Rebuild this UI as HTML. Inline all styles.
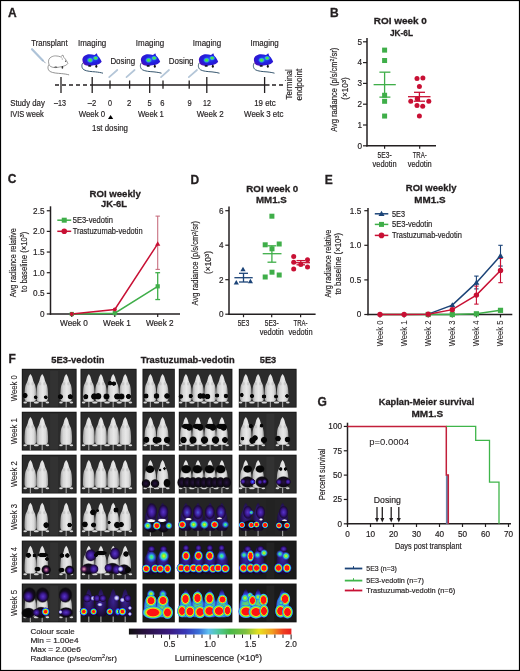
<!DOCTYPE html>
<html><head><meta charset="utf-8"><style>
html,body{margin:0;padding:0;background:#fff;}
svg{display:block;font-family:"Liberation Sans",sans-serif;will-change:transform;}
text{stroke:#231f20;stroke-width:0.18px;}
text[font-weight="bold"]{stroke-width:0.3px;}
</style></head><body>
<svg width="520" height="671" viewBox="0 0 520 671" fill="#231f20">
<rect x="0.5" y="0.5" width="519" height="670" fill="#fff" stroke="#000" stroke-width="1.2"/>
<defs>
<radialGradient id="mg" cx="0.55" cy="0.45" r="0.62">
<stop offset="0" stop-color="#2a50f0"/><stop offset="0.5" stop-color="#2020e0"/><stop offset="0.8" stop-color="#3016d0"/><stop offset="1" stop-color="#5810b0"/></radialGradient>
<radialGradient id="mgr"><stop offset="0" stop-color="#50f040"/><stop offset="0.35" stop-color="#44e450"/><stop offset="0.6" stop-color="#30b8d8" stop-opacity="0.85"/><stop offset="0.85" stop-color="#2a70f0" stop-opacity="0.5"/><stop offset="1" stop-color="#2a60f0" stop-opacity="0"/></radialGradient>
</defs>
<text x="8" y="17.3" font-size="12" font-weight="bold">A</text>
<line x1="32" y1="49.2" x2="42.8" y2="60.4" stroke="#aec3d8" stroke-width="2.2" stroke-linecap="round"/>
<line x1="42.8" y1="60.4" x2="45.6" y2="63.2" stroke="#6d8096" stroke-width="0.7" />
<g transform="translate(47.6 55) scale(1)">
<path d="M1.4,9.6 C-0.2,11.5 0,15 2.5,16.5 C5,18 10,18.3 14,18.6 C17,18.9 19.5,19.3 21.5,19.9" fill="none" stroke="#777" stroke-width="0.8"/>
<path d="M1.1,8 C0.4,5.6 1.4,3.2 3.5,2.1 C5,1.2 6.5,0.9 7.8,0.9 C9.8,0.9 11.5,1.3 13,1.8 L15.3,0 L16.2,2.4 C17.3,3.4 18.2,4.5 18.8,5.6 C19.4,6.6 19.9,7.6 20.2,8.5 C19.5,9.5 18.6,10.2 17.6,10.6 C15.8,11.3 14,11.8 12,12 C10.5,12.4 9,12.6 7.8,12.6 C6,12.6 4.2,12.2 3,11.5 C1.8,10.6 1.3,9.4 1.1,8 Z" fill="#fff" stroke="#5a5a5a" stroke-width="0.6"/>
<path d="M13.6,2.2 C14.6,3 15,4 14.6,5" fill="none" stroke="#777" stroke-width="0.5"/>
<ellipse cx="8.2" cy="12" rx="1.6" ry="0.6" fill="#333"/><ellipse cx="14.8" cy="12.4" rx="0.8" ry="1.3" fill="#333"/><circle cx="18" cy="6.2" r="0.6" fill="#333"/>
</g>
<g transform="translate(81.5 53.3) scale(1)">
<path d="M1.4,9.6 C-0.2,11.5 0,15 2.5,16.5 C5,18 10,18.3 14,18.6 C17,18.9 19.5,19.3 21.5,19.9" fill="none" stroke="#36566e" stroke-width="1"/>
<path d="M1.1,8 C0.4,5.6 1.4,3.2 3.5,2.1 C5,1.2 6.5,0.9 7.8,0.9 C9.8,0.9 11.5,1.3 13,1.8 L15.3,0 L16.2,2.4 C17.3,3.4 18.2,4.5 18.8,5.6 C19.4,6.6 19.9,7.6 20.2,8.5 C19.5,9.5 18.6,10.2 17.6,10.6 C15.8,11.3 14,11.8 12,12 C10.5,12.4 9,12.6 7.8,12.6 C6,12.6 4.2,12.2 3,11.5 C1.8,10.6 1.3,9.4 1.1,8 Z" fill="url(#mg)"/>
<ellipse cx="8.6" cy="6.9" rx="3.6" ry="3" fill="url(#mgr)"/><ellipse cx="14.2" cy="4.8" rx="3.2" ry="2.6" fill="url(#mgr)"/>
<ellipse cx="8.2" cy="12.6" rx="1.6" ry="0.9" fill="#141428"/><ellipse cx="14.8" cy="12.9" rx="1" ry="1.5" fill="#111"/>
</g>
<g transform="translate(140 53.3) scale(1)">
<path d="M1.4,9.6 C-0.2,11.5 0,15 2.5,16.5 C5,18 10,18.3 14,18.6 C17,18.9 19.5,19.3 21.5,19.9" fill="none" stroke="#36566e" stroke-width="1"/>
<path d="M1.1,8 C0.4,5.6 1.4,3.2 3.5,2.1 C5,1.2 6.5,0.9 7.8,0.9 C9.8,0.9 11.5,1.3 13,1.8 L15.3,0 L16.2,2.4 C17.3,3.4 18.2,4.5 18.8,5.6 C19.4,6.6 19.9,7.6 20.2,8.5 C19.5,9.5 18.6,10.2 17.6,10.6 C15.8,11.3 14,11.8 12,12 C10.5,12.4 9,12.6 7.8,12.6 C6,12.6 4.2,12.2 3,11.5 C1.8,10.6 1.3,9.4 1.1,8 Z" fill="url(#mg)"/>
<ellipse cx="8.6" cy="6.9" rx="3.6" ry="3" fill="url(#mgr)"/><ellipse cx="14.2" cy="4.8" rx="3.2" ry="2.6" fill="url(#mgr)"/>
<ellipse cx="8.2" cy="12.6" rx="1.6" ry="0.9" fill="#141428"/><ellipse cx="14.8" cy="12.9" rx="1" ry="1.5" fill="#111"/>
</g>
<g transform="translate(198 53.3) scale(1)">
<path d="M1.4,9.6 C-0.2,11.5 0,15 2.5,16.5 C5,18 10,18.3 14,18.6 C17,18.9 19.5,19.3 21.5,19.9" fill="none" stroke="#36566e" stroke-width="1"/>
<path d="M1.1,8 C0.4,5.6 1.4,3.2 3.5,2.1 C5,1.2 6.5,0.9 7.8,0.9 C9.8,0.9 11.5,1.3 13,1.8 L15.3,0 L16.2,2.4 C17.3,3.4 18.2,4.5 18.8,5.6 C19.4,6.6 19.9,7.6 20.2,8.5 C19.5,9.5 18.6,10.2 17.6,10.6 C15.8,11.3 14,11.8 12,12 C10.5,12.4 9,12.6 7.8,12.6 C6,12.6 4.2,12.2 3,11.5 C1.8,10.6 1.3,9.4 1.1,8 Z" fill="url(#mg)"/>
<ellipse cx="8.6" cy="6.9" rx="3.6" ry="3" fill="url(#mgr)"/><ellipse cx="14.2" cy="4.8" rx="3.2" ry="2.6" fill="url(#mgr)"/>
<ellipse cx="8.2" cy="12.6" rx="1.6" ry="0.9" fill="#141428"/><ellipse cx="14.8" cy="12.9" rx="1" ry="1.5" fill="#111"/>
</g>
<g transform="translate(253 53.3) scale(1)">
<path d="M1.4,9.6 C-0.2,11.5 0,15 2.5,16.5 C5,18 10,18.3 14,18.6 C17,18.9 19.5,19.3 21.5,19.9" fill="none" stroke="#36566e" stroke-width="1"/>
<path d="M1.1,8 C0.4,5.6 1.4,3.2 3.5,2.1 C5,1.2 6.5,0.9 7.8,0.9 C9.8,0.9 11.5,1.3 13,1.8 L15.3,0 L16.2,2.4 C17.3,3.4 18.2,4.5 18.8,5.6 C19.4,6.6 19.9,7.6 20.2,8.5 C19.5,9.5 18.6,10.2 17.6,10.6 C15.8,11.3 14,11.8 12,12 C10.5,12.4 9,12.6 7.8,12.6 C6,12.6 4.2,12.2 3,11.5 C1.8,10.6 1.3,9.4 1.1,8 Z" fill="url(#mg)"/>
<ellipse cx="8.6" cy="6.9" rx="3.6" ry="3" fill="url(#mgr)"/><ellipse cx="14.2" cy="4.8" rx="3.2" ry="2.6" fill="url(#mgr)"/>
<ellipse cx="8.2" cy="12.6" rx="1.6" ry="0.9" fill="#141428"/><ellipse cx="14.8" cy="12.9" rx="1" ry="1.5" fill="#111"/>
</g>
<line x1="109.2" y1="77.2" x2="117.3" y2="70" stroke="#b4c6d8" stroke-width="1.7" stroke-linecap="round"/>
<line x1="126.5" y1="77.2" x2="134.6" y2="70" stroke="#b4c6d8" stroke-width="1.7" stroke-linecap="round"/>
<line x1="161" y1="77.2" x2="169" y2="70" stroke="#b4c6d8" stroke-width="1.7" stroke-linecap="round"/>
<line x1="188.8" y1="77.2" x2="197" y2="70" stroke="#b4c6d8" stroke-width="1.7" stroke-linecap="round"/>
<text x="31.2" y="45.9" font-size="8.6" textLength="36.4" lengthAdjust="spacingAndGlyphs">Transplant</text>
<text x="78" y="46" font-size="8.6" textLength="28.3" lengthAdjust="spacingAndGlyphs">Imaging</text>
<text x="135.8" y="46" font-size="8.6" textLength="28.3" lengthAdjust="spacingAndGlyphs">Imaging</text>
<text x="192.8" y="46" font-size="8.6" textLength="28.3" lengthAdjust="spacingAndGlyphs">Imaging</text>
<text x="250.5" y="46" font-size="8.6" textLength="28.3" lengthAdjust="spacingAndGlyphs">Imaging</text>
<text x="110.4" y="63.5" font-size="8.6" textLength="24.7" lengthAdjust="spacingAndGlyphs">Dosing</text>
<text x="168.8" y="63.5" font-size="8.6" textLength="24.7" lengthAdjust="spacingAndGlyphs">Dosing</text>
<line x1="55" y1="85" x2="92" y2="85" stroke="#231f20" stroke-width="1.3" stroke-dasharray="4 3"/>
<line x1="92" y1="85" x2="269.5" y2="85" stroke="#231f20" stroke-width="1.3" />
<line x1="272" y1="85" x2="283" y2="85" stroke="#231f20" stroke-width="1.3" stroke-dasharray="4 3"/>
<line x1="61" y1="77" x2="61" y2="93" stroke="#231f20" stroke-width="1.3" />
<line x1="92.2" y1="77" x2="92.2" y2="93" stroke="#231f20" stroke-width="1.3" />
<line x1="149.7" y1="77" x2="149.7" y2="93" stroke="#231f20" stroke-width="1.3" />
<line x1="206.8" y1="77" x2="206.8" y2="93" stroke="#231f20" stroke-width="1.3" />
<line x1="264.6" y1="77" x2="264.6" y2="93" stroke="#231f20" stroke-width="1.3" />
<line x1="110" y1="80.5" x2="110" y2="88.7" stroke="#231f20" stroke-width="1.3" />
<line x1="129.6" y1="80.5" x2="129.6" y2="88.7" stroke="#231f20" stroke-width="1.3" />
<line x1="163" y1="80.5" x2="163" y2="88.7" stroke="#231f20" stroke-width="1.3" />
<line x1="189.2" y1="80.5" x2="189.2" y2="88.7" stroke="#231f20" stroke-width="1.3" />
<text x="10.2" y="105.6" font-size="8.6" textLength="34.6" lengthAdjust="spacingAndGlyphs">Study day</text>
<text x="10.2" y="117.2" font-size="8.6" textLength="33.6" lengthAdjust="spacingAndGlyphs">IVIS week</text>
<text x="54" y="105.6" font-size="8.6" textLength="12" lengthAdjust="spacingAndGlyphs">–13</text>
<text x="87.8" y="105.6" font-size="8.6" textLength="8.5" lengthAdjust="spacingAndGlyphs">–2</text>
<text x="108" y="105.6" font-size="8.6" textLength="4" lengthAdjust="spacingAndGlyphs">0</text>
<text x="127" y="105.6" font-size="8.6" textLength="4.3" lengthAdjust="spacingAndGlyphs">2</text>
<text x="147.6" y="105.6" font-size="8.6" textLength="4.2" lengthAdjust="spacingAndGlyphs">5</text>
<text x="160.3" y="105.6" font-size="8.6" textLength="4.2" lengthAdjust="spacingAndGlyphs">6</text>
<text x="187.4" y="105.6" font-size="8.6" textLength="4.2" lengthAdjust="spacingAndGlyphs">9</text>
<text x="203" y="105.6" font-size="8.6" textLength="7.9" lengthAdjust="spacingAndGlyphs">12</text>
<text x="254.2" y="105.6" font-size="8.6" textLength="21.6" lengthAdjust="spacingAndGlyphs">19 etc</text>
<text x="78.7" y="117.2" font-size="8.6" textLength="26.4" lengthAdjust="spacingAndGlyphs">Week 0</text>
<text x="138" y="117.2" font-size="8.6" textLength="25.9" lengthAdjust="spacingAndGlyphs">Week 1</text>
<text x="196.7" y="117.2" font-size="8.6" textLength="26.9" lengthAdjust="spacingAndGlyphs">Week 2</text>
<text x="244.1" y="117.2" font-size="8.6" textLength="39.3" lengthAdjust="spacingAndGlyphs">Week 3 etc</text>
<text x="92" y="130.5" font-size="8.6" textLength="36" lengthAdjust="spacingAndGlyphs">1st dosing</text>
<polygon points="108,119 113.2,119 110.6,115" fill="#000" />
<text x="292.4" y="99.4" font-size="8.6" textLength="30.3" lengthAdjust="spacingAndGlyphs" transform="rotate(-90 292.4 99.4)">Terminal</text>
<text x="301.9" y="100.4" font-size="8.6" textLength="31.7" lengthAdjust="spacingAndGlyphs" transform="rotate(-90 301.9 100.4)">endpoint</text>
<text x="330" y="17.3" font-size="12" font-weight="bold">B</text>
<text x="373.8" y="23.6" font-size="9.7" font-weight="bold" textLength="53" lengthAdjust="spacingAndGlyphs">ROI week 0</text>
<text x="390" y="36.4" font-size="9.7" font-weight="bold" textLength="23" lengthAdjust="spacingAndGlyphs">JK-6L</text>
<line x1="367" y1="38" x2="367" y2="146.5" stroke="#231f20" stroke-width="1.5" />
<line x1="366.3" y1="145.8" x2="436" y2="145.8" stroke="#231f20" stroke-width="1.5" />
<line x1="363" y1="145.8" x2="367" y2="145.8" stroke="#231f20" stroke-width="1.2" />
<text x="362" y="148.6" font-size="8.2" text-anchor="end">0</text>
<line x1="363" y1="125" x2="367" y2="125" stroke="#231f20" stroke-width="1.2" />
<text x="362" y="127.8" font-size="8.2" text-anchor="end">1</text>
<line x1="363" y1="104.2" x2="367" y2="104.2" stroke="#231f20" stroke-width="1.2" />
<text x="362" y="107" font-size="8.2" text-anchor="end">2</text>
<line x1="363" y1="83.4" x2="367" y2="83.4" stroke="#231f20" stroke-width="1.2" />
<text x="362" y="86.2" font-size="8.2" text-anchor="end">3</text>
<line x1="363" y1="62.6" x2="367" y2="62.6" stroke="#231f20" stroke-width="1.2" />
<text x="362" y="65.4" font-size="8.2" text-anchor="end">4</text>
<line x1="363" y1="41.8" x2="367" y2="41.8" stroke="#231f20" stroke-width="1.2" />
<text x="362" y="44.6" font-size="8.2" text-anchor="end">5</text>
<line x1="384.6" y1="145.8" x2="384.6" y2="148.8" stroke="#231f20" stroke-width="1.2" />
<line x1="419.7" y1="145.8" x2="419.7" y2="148.8" stroke="#231f20" stroke-width="1.2" />
<text x="384.6" y="157.6" font-size="8.2" text-anchor="middle" textLength="14" lengthAdjust="spacingAndGlyphs">5E3-</text>
<text x="384.6" y="166.6" font-size="8.2" text-anchor="middle" textLength="24" lengthAdjust="spacingAndGlyphs">vedotin</text>
<text x="419.7" y="157.6" font-size="8.2" text-anchor="middle" textLength="14" lengthAdjust="spacingAndGlyphs">TRA-</text>
<text x="419.7" y="166.6" font-size="8.2" text-anchor="middle" textLength="24" lengthAdjust="spacingAndGlyphs">vedotin</text>
<text x="336.9" y="89.85" font-size="8.2" text-anchor="middle" textLength="84" lengthAdjust="spacingAndGlyphs" transform="rotate(-90 336.9 89.85)">Avg radiance (p/s/cm<tspan dy="-2.5" font-size="5.5">2</tspan><tspan dy="2.5">/sr)</tspan></text>
<text x="348" y="88.5" font-size="8.2" text-anchor="middle" textLength="22.3" lengthAdjust="spacingAndGlyphs" transform="rotate(-90 348 88.5)">(×10<tspan dy="-2.5" font-size="5.5">3</tspan><tspan dy="2.5">)</tspan></text>
<rect x="382.1" y="47.62" width="5" height="5" fill="#3fae49" />
<rect x="382.1" y="58.02" width="5" height="5" fill="#3fae49" />
<rect x="382.1" y="92.76" width="5" height="5" fill="#3fae49" />
<rect x="382.1" y="98.79" width="5" height="5" fill="#3fae49" />
<rect x="382.1" y="113.56" width="5" height="5" fill="#3fae49" />
<line x1="373.6" y1="84.65" x2="395.8" y2="84.65" stroke="#3fae49" stroke-width="1.3" />
<line x1="384.6" y1="72.17" x2="384.6" y2="97.13" stroke="#3fae49" stroke-width="1.3" />
<line x1="379.4" y1="72.17" x2="390.4" y2="72.17" stroke="#3fae49" stroke-width="1.3" />
<line x1="379.4" y1="97.13" x2="390.4" y2="97.13" stroke="#3fae49" stroke-width="1.3" />
<circle cx="417" cy="78.5" r="2.5" fill="#c81034" />
<circle cx="422.9" cy="78" r="2.5" fill="#c81034" />
<circle cx="419.4" cy="86.5" r="2.5" fill="#c81034" />
<circle cx="410.8" cy="101.2" r="2.5" fill="#c81034" />
<circle cx="417.2" cy="98.8" r="2.5" fill="#c81034" />
<circle cx="428.8" cy="101.2" r="2.5" fill="#c81034" />
<circle cx="417" cy="105.4" r="2.5" fill="#c81034" />
<circle cx="422.7" cy="106.3" r="2.5" fill="#c81034" />
<circle cx="419.4" cy="116" r="2.5" fill="#c81034" />
<line x1="408" y1="96.7" x2="430.5" y2="96.7" stroke="#c81034" stroke-width="1.3" />
<line x1="419.4" y1="92.3" x2="419.4" y2="101.2" stroke="#c81034" stroke-width="1.3" />
<line x1="414" y1="92.3" x2="425" y2="92.3" stroke="#c81034" stroke-width="1.3" />
<line x1="414" y1="101.2" x2="425" y2="101.2" stroke="#c81034" stroke-width="1.3" />
<text x="7.7" y="183.3" font-size="12" font-weight="bold">C</text>
<text x="89.5" y="196.6" font-size="9.7" font-weight="bold" textLength="51.3" lengthAdjust="spacingAndGlyphs">ROI weekly</text>
<text x="101" y="207.2" font-size="9.7" font-weight="bold" textLength="26" lengthAdjust="spacingAndGlyphs">JK-6L</text>
<line x1="50.5" y1="206.3" x2="50.5" y2="314.7" stroke="#231f20" stroke-width="1.5" />
<line x1="49.8" y1="314" x2="180" y2="314" stroke="#231f20" stroke-width="1.5" />
<line x1="46.8" y1="314" x2="50.5" y2="314" stroke="#231f20" stroke-width="1.2" />
<text x="44.5" y="316.8" font-size="8.2" text-anchor="end">0</text>
<line x1="46.8" y1="293.35" x2="50.5" y2="293.35" stroke="#231f20" stroke-width="1.2" />
<text x="44.5" y="296.15" font-size="8.2" text-anchor="end">0.5</text>
<line x1="46.8" y1="272.7" x2="50.5" y2="272.7" stroke="#231f20" stroke-width="1.2" />
<text x="44.5" y="275.5" font-size="8.2" text-anchor="end">1.0</text>
<line x1="46.8" y1="252.05" x2="50.5" y2="252.05" stroke="#231f20" stroke-width="1.2" />
<text x="44.5" y="254.85" font-size="8.2" text-anchor="end">1.5</text>
<line x1="46.8" y1="231.4" x2="50.5" y2="231.4" stroke="#231f20" stroke-width="1.2" />
<text x="44.5" y="234.2" font-size="8.2" text-anchor="end">2.0</text>
<line x1="46.8" y1="210.75" x2="50.5" y2="210.75" stroke="#231f20" stroke-width="1.2" />
<text x="44.5" y="213.55" font-size="8.2" text-anchor="end">2.5</text>
<line x1="71.8" y1="314" x2="71.8" y2="317" stroke="#231f20" stroke-width="1.2" />
<text x="73.9" y="325.6" font-size="8.2" text-anchor="middle" textLength="27.7" lengthAdjust="spacingAndGlyphs">Week 0</text>
<line x1="114.8" y1="314" x2="114.8" y2="317" stroke="#231f20" stroke-width="1.2" />
<text x="116.9" y="325.6" font-size="8.2" text-anchor="middle" textLength="27.7" lengthAdjust="spacingAndGlyphs">Week 1</text>
<line x1="157.7" y1="314" x2="157.7" y2="317" stroke="#231f20" stroke-width="1.2" />
<text x="159.8" y="325.6" font-size="8.2" text-anchor="middle" textLength="27.7" lengthAdjust="spacingAndGlyphs">Week 2</text>
<text x="16.2" y="262.75" font-size="8.2" text-anchor="middle" textLength="69" lengthAdjust="spacingAndGlyphs" transform="rotate(-90 16.2 262.75)">Avg radiance relative</text>
<text x="26.6" y="261.9" font-size="8.2" text-anchor="middle" textLength="60.2" lengthAdjust="spacingAndGlyphs" transform="rotate(-90 26.6 261.9)">to baseline (×10<tspan dy="-2.5" font-size="5.5">3</tspan><tspan dy="2.5">)</tspan></text>
<line x1="57.3" y1="220.2" x2="71.2" y2="220.2" stroke="#3fae49" stroke-width="1.5" />
<rect x="61.75" y="217.7" width="5" height="5" fill="#3fae49" />
<line x1="57.3" y1="231.3" x2="71.2" y2="231.3" stroke="#c81034" stroke-width="1.5" />
<circle cx="64.25" cy="231.3" r="2.8" fill="#c81034" />
<text x="72.7" y="222.9" font-size="8.2" textLength="40.3" lengthAdjust="spacingAndGlyphs">5E3-vedotin</text>
<text x="72.7" y="234" font-size="8.2" textLength="69.9" lengthAdjust="spacingAndGlyphs">Trastuzumab-vedotin</text>
<line x1="157.7" y1="216.12" x2="157.7" y2="269.4" stroke="#c87080" stroke-width="1.1" />
<line x1="155.5" y1="216.12" x2="159.9" y2="216.12" stroke="#c87080" stroke-width="1.1" />
<line x1="155.5" y1="269.4" x2="159.9" y2="269.4" stroke="#c87080" stroke-width="1.1" />
<line x1="157.7" y1="272.7" x2="157.7" y2="299.55" stroke="#3fae49" stroke-width="1.3" />
<line x1="155.3" y1="272.7" x2="160.1" y2="272.7" stroke="#3fae49" stroke-width="1.3" />
<line x1="155.3" y1="299.55" x2="160.1" y2="299.55" stroke="#3fae49" stroke-width="1.3" />
<polyline points="71.8,314 114.8,313.17 157.7,286.33" fill="none" stroke="#3fae49" stroke-width="1.5" />
<polyline points="71.8,314 114.8,309.46 157.7,243.79" fill="none" stroke="#c81034" stroke-width="1.5" />
<rect x="69.7" y="311.9" width="4.2" height="4.2" fill="#3fae49" />
<rect x="112.7" y="311.07" width="4.2" height="4.2" fill="#3fae49" />
<rect x="155.6" y="284.23" width="4.2" height="4.2" fill="#3fae49" />
<circle cx="71.8" cy="314" r="2" fill="#c81034" />
<circle cx="114.8" cy="309.46" r="2" fill="#c81034" />
<polygon points="155.1,245.79 160.3,245.79 157.7,241.19" fill="#c81034" />
<text x="190.6" y="183.5" font-size="12" font-weight="bold">D</text>
<text x="246.3" y="192.2" font-size="9.7" font-weight="bold" textLength="52" lengthAdjust="spacingAndGlyphs">ROI week 0</text>
<text x="256" y="202.8" font-size="9.7" font-weight="bold" textLength="30.8" lengthAdjust="spacingAndGlyphs">MM1.S</text>
<line x1="229" y1="206.5" x2="229" y2="314.9" stroke="#231f20" stroke-width="1.5" />
<line x1="228.3" y1="314.2" x2="315.6" y2="314.2" stroke="#231f20" stroke-width="1.5" />
<line x1="225.3" y1="314.2" x2="229" y2="314.2" stroke="#231f20" stroke-width="1.2" />
<text x="223.6" y="317" font-size="8.2" text-anchor="end">0</text>
<line x1="225.3" y1="279.7" x2="229" y2="279.7" stroke="#231f20" stroke-width="1.2" />
<text x="223.6" y="282.5" font-size="8.2" text-anchor="end">2</text>
<line x1="225.3" y1="245.2" x2="229" y2="245.2" stroke="#231f20" stroke-width="1.2" />
<text x="223.6" y="248" font-size="8.2" text-anchor="end">4</text>
<line x1="225.3" y1="210.7" x2="229" y2="210.7" stroke="#231f20" stroke-width="1.2" />
<text x="223.6" y="213.5" font-size="8.2" text-anchor="end">6</text>
<line x1="243.5" y1="314.2" x2="243.5" y2="317.2" stroke="#231f20" stroke-width="1.2" />
<line x1="271.7" y1="314.2" x2="271.7" y2="317.2" stroke="#231f20" stroke-width="1.2" />
<line x1="300.6" y1="314.2" x2="300.6" y2="317.2" stroke="#231f20" stroke-width="1.2" />
<text x="243.5" y="325.6" font-size="8.2" text-anchor="middle" textLength="11.5" lengthAdjust="spacingAndGlyphs">5E3</text>
<text x="271.7" y="325.6" font-size="8.2" text-anchor="middle" textLength="14" lengthAdjust="spacingAndGlyphs">5E3-</text>
<text x="271.7" y="335.4" font-size="8.2" text-anchor="middle" textLength="24" lengthAdjust="spacingAndGlyphs">vedotin</text>
<text x="300.6" y="325.6" font-size="8.2" text-anchor="middle" textLength="14" lengthAdjust="spacingAndGlyphs">TRA-</text>
<text x="300.6" y="335.4" font-size="8.2" text-anchor="middle" textLength="24" lengthAdjust="spacingAndGlyphs">vedotin</text>
<text x="198.4" y="263.2" font-size="8.2" text-anchor="middle" textLength="84.4" lengthAdjust="spacingAndGlyphs" transform="rotate(-90 198.4 263.2)">Avg radiance (p/s/cm<tspan dy="-2.5" font-size="5.5">2</tspan><tspan dy="2.5">/sr)</tspan></text>
<text x="211" y="262.5" font-size="8.2" text-anchor="middle" textLength="23" lengthAdjust="spacingAndGlyphs" transform="rotate(-90 211 262.5)">(×10<tspan dy="-2.5" font-size="5.5">3</tspan><tspan dy="2.5">)</tspan></text>
<rect x="269.4" y="213.7" width="5" height="5" fill="#3fae49" />
<rect x="262.7" y="242.3" width="5" height="5" fill="#3fae49" />
<rect x="276.7" y="241.5" width="5" height="5" fill="#3fae49" />
<rect x="269.5" y="246.3" width="5" height="5" fill="#3fae49" />
<rect x="262.7" y="274.5" width="5" height="5" fill="#3fae49" />
<rect x="269.5" y="269.7" width="5" height="5" fill="#3fae49" />
<rect x="276.7" y="272.5" width="5" height="5" fill="#3fae49" />
<line x1="262.7" y1="253.7" x2="281.5" y2="253.7" stroke="#3fae49" stroke-width="1.3" />
<line x1="271.9" y1="245.8" x2="271.9" y2="262.2" stroke="#3fae49" stroke-width="1.3" />
<line x1="267.5" y1="245.8" x2="276.3" y2="245.8" stroke="#3fae49" stroke-width="1.3" />
<line x1="267.5" y1="262.2" x2="276.3" y2="262.2" stroke="#3fae49" stroke-width="1.3" />
<circle cx="293.7" cy="256.5" r="2.5" fill="#c81034" />
<circle cx="307.5" cy="259.8" r="2.5" fill="#c81034" />
<circle cx="293.7" cy="262.3" r="2.5" fill="#c81034" />
<circle cx="300.8" cy="264.6" r="2.5" fill="#c81034" />
<circle cx="307.5" cy="267" r="2.5" fill="#c81034" />
<circle cx="293.7" cy="269" r="2.5" fill="#c81034" />
<line x1="292" y1="262.7" x2="310" y2="262.7" stroke="#c81034" stroke-width="1.3" />
<line x1="300.8" y1="260.6" x2="300.8" y2="264.8" stroke="#c81034" stroke-width="1.3" />
<line x1="296.5" y1="260.6" x2="305" y2="260.6" stroke="#c81034" stroke-width="1.3" />
<line x1="296.5" y1="264.8" x2="305" y2="264.8" stroke="#c81034" stroke-width="1.3" />
<polygon points="240.4,271.3 245.6,271.3 243,266.7" fill="#1c4478" />
<polygon points="233.7,284.6 238.9,284.6 236.3,280" fill="#1c4478" />
<polygon points="247.8,283.3 253,283.3 250.4,278.7" fill="#1c4478" />
<line x1="234.4" y1="277.7" x2="252.7" y2="277.7" stroke="#1c4478" stroke-width="1.3" />
<line x1="243.5" y1="273.3" x2="243.5" y2="282" stroke="#1c4478" stroke-width="1.3" />
<line x1="239" y1="273.3" x2="248" y2="273.3" stroke="#1c4478" stroke-width="1.3" />
<line x1="239" y1="282" x2="248" y2="282" stroke="#1c4478" stroke-width="1.3" />
<text x="324.8" y="183.5" font-size="12" font-weight="bold">E</text>
<text x="405.8" y="191" font-size="9.7" font-weight="bold" textLength="50.7" lengthAdjust="spacingAndGlyphs">ROI weekly</text>
<text x="414.3" y="202.6" font-size="9.7" font-weight="bold" textLength="31.2" lengthAdjust="spacingAndGlyphs">MM1.S</text>
<line x1="368" y1="208" x2="368" y2="315.2" stroke="#231f20" stroke-width="1.5" />
<line x1="367.3" y1="314.5" x2="512.3" y2="314.5" stroke="#231f20" stroke-width="1.5" />
<line x1="364.3" y1="314.5" x2="368" y2="314.5" stroke="#231f20" stroke-width="1.2" />
<text x="361.2" y="317.3" font-size="8.2" text-anchor="end">0</text>
<line x1="364.3" y1="279.9" x2="368" y2="279.9" stroke="#231f20" stroke-width="1.2" />
<text x="361.2" y="282.7" font-size="8.2" text-anchor="end">0.5</text>
<line x1="364.3" y1="245.3" x2="368" y2="245.3" stroke="#231f20" stroke-width="1.2" />
<text x="361.2" y="248.1" font-size="8.2" text-anchor="end">1.0</text>
<line x1="364.3" y1="210.7" x2="368" y2="210.7" stroke="#231f20" stroke-width="1.2" />
<text x="361.2" y="213.5" font-size="8.2" text-anchor="end">1.5</text>
<line x1="380" y1="314.5" x2="380" y2="317.5" stroke="#231f20" stroke-width="1.2" />
<text x="382.8" y="346.3" font-size="8.2" textLength="25.8" lengthAdjust="spacingAndGlyphs" transform="rotate(-90 382.8 346.3)" style="stroke-width:0.05px">Week 0</text>
<line x1="404.1" y1="314.5" x2="404.1" y2="317.5" stroke="#231f20" stroke-width="1.2" />
<text x="406.9" y="346.3" font-size="8.2" textLength="25.8" lengthAdjust="spacingAndGlyphs" transform="rotate(-90 406.9 346.3)" style="stroke-width:0.05px">Week 1</text>
<line x1="428.2" y1="314.5" x2="428.2" y2="317.5" stroke="#231f20" stroke-width="1.2" />
<text x="431" y="346.3" font-size="8.2" textLength="25.8" lengthAdjust="spacingAndGlyphs" transform="rotate(-90 431 346.3)" style="stroke-width:0.05px">Week 2</text>
<line x1="452.3" y1="314.5" x2="452.3" y2="317.5" stroke="#231f20" stroke-width="1.2" />
<text x="455.1" y="346.3" font-size="8.2" textLength="25.8" lengthAdjust="spacingAndGlyphs" transform="rotate(-90 455.1 346.3)" style="stroke-width:0.05px">Week 3</text>
<line x1="476.4" y1="314.5" x2="476.4" y2="317.5" stroke="#231f20" stroke-width="1.2" />
<text x="479.2" y="346.3" font-size="8.2" textLength="25.8" lengthAdjust="spacingAndGlyphs" transform="rotate(-90 479.2 346.3)" style="stroke-width:0.05px">Week 4</text>
<line x1="500.5" y1="314.5" x2="500.5" y2="317.5" stroke="#231f20" stroke-width="1.2" />
<text x="503.3" y="346.3" font-size="8.2" textLength="25.8" lengthAdjust="spacingAndGlyphs" transform="rotate(-90 503.3 346.3)" style="stroke-width:0.05px">Week 5</text>
<text x="330.6" y="263.7" font-size="8.2" text-anchor="middle" textLength="67.8" lengthAdjust="spacingAndGlyphs" transform="rotate(-90 330.6 263.7)">Avg radiance relative</text>
<text x="341.4" y="263.8" font-size="8.2" text-anchor="middle" textLength="61.6" lengthAdjust="spacingAndGlyphs" transform="rotate(-90 341.4 263.8)">to baseline (×10<tspan dy="-2.5" font-size="5.5">3</tspan><tspan dy="2.5">)</tspan></text>
<line x1="374.8" y1="213.8" x2="388.3" y2="213.8" stroke="#1c4478" stroke-width="1.5" />
<polygon points="378.5,216 384.5,216 381.5,210.8" fill="#1c4478" />
<line x1="374.8" y1="224.4" x2="388.3" y2="224.4" stroke="#3fae49" stroke-width="1.5" />
<rect x="379" y="221.9" width="5" height="5" fill="#3fae49" />
<line x1="374.8" y1="235.4" x2="388.3" y2="235.4" stroke="#c81034" stroke-width="1.5" />
<circle cx="381.5" cy="235.4" r="2.8" fill="#c81034" />
<text x="392" y="216.5" font-size="8.2" textLength="13" lengthAdjust="spacingAndGlyphs">5E3</text>
<text x="392" y="227.1" font-size="8.2" textLength="40.3" lengthAdjust="spacingAndGlyphs">5E3-vedotin</text>
<text x="392" y="238.1" font-size="8.2" textLength="69.9" lengthAdjust="spacingAndGlyphs">Trastuzumab-vedotin</text>
<line x1="476.4" y1="276.09" x2="476.4" y2="288.9" stroke="#1c4478" stroke-width="1.1" />
<line x1="474.2" y1="276.09" x2="478.6" y2="276.09" stroke="#1c4478" stroke-width="1.1" />
<line x1="474.2" y1="288.9" x2="478.6" y2="288.9" stroke="#1c4478" stroke-width="1.1" />
<line x1="500.5" y1="245.3" x2="500.5" y2="266.06" stroke="#1c4478" stroke-width="1.1" />
<line x1="498.3" y1="245.3" x2="502.7" y2="245.3" stroke="#1c4478" stroke-width="1.1" />
<line x1="498.3" y1="266.06" x2="502.7" y2="266.06" stroke="#1c4478" stroke-width="1.1" />
<line x1="476.4" y1="286.13" x2="476.4" y2="304.12" stroke="#c81034" stroke-width="1.1" />
<line x1="474.2" y1="286.13" x2="478.6" y2="286.13" stroke="#c81034" stroke-width="1.1" />
<line x1="474.2" y1="304.12" x2="478.6" y2="304.12" stroke="#c81034" stroke-width="1.1" />
<line x1="500.5" y1="258.45" x2="500.5" y2="282.67" stroke="#c81034" stroke-width="1.1" />
<line x1="498.3" y1="258.45" x2="502.7" y2="258.45" stroke="#c81034" stroke-width="1.1" />
<line x1="498.3" y1="282.67" x2="502.7" y2="282.67" stroke="#c81034" stroke-width="1.1" />
<polyline points="380,314.5 404.1,314.5 428.2,314.5 452.3,314.5 476.4,313.81 500.5,310.35" fill="none" stroke="#3fae49" stroke-width="1.5" />
<polyline points="428.2,314.15 452.3,305.16 476.4,282.67 500.5,255.68" fill="none" stroke="#1c4478" stroke-width="1.5" />
<polyline points="380,314.5 404.1,314.5 428.2,314.15 452.3,309.66 476.4,295.12 500.5,270.56" fill="none" stroke="#c81034" stroke-width="1.5" />
<rect x="425.6" y="311.9" width="5.2" height="5.2" fill="#3fae49" />
<rect x="449.7" y="311.9" width="5.2" height="5.2" fill="#3fae49" />
<rect x="473.8" y="311.21" width="5.2" height="5.2" fill="#3fae49" />
<rect x="497.9" y="307.75" width="5.2" height="5.2" fill="#3fae49" />
<polygon points="449.3,307.36 455.3,307.36 452.3,302.16" fill="#1c4478" />
<polygon points="473.4,284.87 479.4,284.87 476.4,279.67" fill="#1c4478" />
<polygon points="497.5,257.88 503.5,257.88 500.5,252.68" fill="#1c4478" />
<circle cx="380" cy="314.5" r="2.7" fill="#c81034" />
<circle cx="404.1" cy="314.5" r="2.7" fill="#c81034" />
<circle cx="428.2" cy="314.15" r="2.7" fill="#c81034" />
<circle cx="452.3" cy="309.66" r="2.7" fill="#c81034" />
<circle cx="476.4" cy="295.12" r="2.7" fill="#c81034" />
<circle cx="500.5" cy="270.56" r="2.7" fill="#c81034" />
<text x="317.4" y="406.3" font-size="12" font-weight="bold">G</text>
<text x="378.8" y="405.2" font-size="9.7" font-weight="bold" textLength="95.5" lengthAdjust="spacingAndGlyphs">Kaplan-Meier survival</text>
<text x="411.5" y="417.3" font-size="9.7" font-weight="bold" textLength="31.7" lengthAdjust="spacingAndGlyphs">MM1.S</text>
<line x1="347.5" y1="422.7" x2="347.5" y2="524.5" stroke="#231f20" stroke-width="1.5" />
<line x1="346.8" y1="523.8" x2="511" y2="523.8" stroke="#231f20" stroke-width="1.5" />
<line x1="343.8" y1="523.8" x2="347.5" y2="523.8" stroke="#231f20" stroke-width="1.2" />
<text x="342" y="526.6" font-size="8.2" text-anchor="end">0</text>
<line x1="343.8" y1="499.46" x2="347.5" y2="499.46" stroke="#231f20" stroke-width="1.2" />
<text x="342" y="502.26" font-size="8.2" text-anchor="end">25</text>
<line x1="343.8" y1="475.12" x2="347.5" y2="475.12" stroke="#231f20" stroke-width="1.2" />
<text x="342" y="477.92" font-size="8.2" text-anchor="end">50</text>
<line x1="343.8" y1="450.78" x2="347.5" y2="450.78" stroke="#231f20" stroke-width="1.2" />
<text x="342" y="453.58" font-size="8.2" text-anchor="end">75</text>
<line x1="343.8" y1="426.44" x2="347.5" y2="426.44" stroke="#231f20" stroke-width="1.2" />
<text x="342" y="429.24" font-size="8.2" text-anchor="end">100</text>
<line x1="347.5" y1="523.8" x2="347.5" y2="527" stroke="#231f20" stroke-width="1.2" />
<text x="347.5" y="537" font-size="8.2" text-anchor="middle">0</text>
<line x1="370.5" y1="523.8" x2="370.5" y2="527" stroke="#231f20" stroke-width="1.2" />
<text x="370.5" y="537" font-size="8.2" text-anchor="middle">10</text>
<line x1="393.5" y1="523.8" x2="393.5" y2="527" stroke="#231f20" stroke-width="1.2" />
<text x="393.5" y="537" font-size="8.2" text-anchor="middle">20</text>
<line x1="416.5" y1="523.8" x2="416.5" y2="527" stroke="#231f20" stroke-width="1.2" />
<text x="416.5" y="537" font-size="8.2" text-anchor="middle">30</text>
<line x1="439.5" y1="523.8" x2="439.5" y2="527" stroke="#231f20" stroke-width="1.2" />
<text x="439.5" y="537" font-size="8.2" text-anchor="middle">40</text>
<line x1="462.5" y1="523.8" x2="462.5" y2="527" stroke="#231f20" stroke-width="1.2" />
<text x="462.5" y="537" font-size="8.2" text-anchor="middle">50</text>
<line x1="485.5" y1="523.8" x2="485.5" y2="527" stroke="#231f20" stroke-width="1.2" />
<text x="485.5" y="537" font-size="8.2" text-anchor="middle">60</text>
<line x1="508.5" y1="523.8" x2="508.5" y2="527" stroke="#231f20" stroke-width="1.2" />
<text x="508.5" y="537" font-size="8.2" text-anchor="middle">70</text>
<text x="395" y="548.5" font-size="8.2" textLength="66.5" lengthAdjust="spacingAndGlyphs">Days post transplant</text>
<text x="325" y="474.3" font-size="8.2" text-anchor="middle" textLength="51.4" lengthAdjust="spacingAndGlyphs" transform="rotate(-90 325 474.3)">Percent survival</text>
<text x="369.2" y="444.6" font-size="9.2" textLength="39.8" lengthAdjust="spacingAndGlyphs" style="stroke-width:0.05px">p=0.0004</text>
<rect x="445.9" y="475.12" width="2.4" height="48.68" fill="#6a86ad" />
<polyline points="347.5,426.44 446.3,426.44 446.3,475.12 448.3,475.12 448.3,523.8" fill="none" stroke="#c21f3a" stroke-width="1.5" />
<polyline points="446.3,426.44 475.7,426.44 475.7,440.36 489.5,440.36 489.5,482.03 499,482.03 499,523.8" fill="none" stroke="#3fb54a" stroke-width="1.3" />
<text x="373.8" y="503.2" font-size="8.6" textLength="27" lengthAdjust="spacingAndGlyphs">Dosing</text>
<line x1="377" y1="507" x2="377" y2="519.5" stroke="#231f20" stroke-width="1.3" />
<polygon points="375,518 379,518 377,522.5" fill="#231f20" />
<line x1="382.3" y1="507" x2="382.3" y2="519.5" stroke="#231f20" stroke-width="1.3" />
<polygon points="380.3,518 384.3,518 382.3,522.5" fill="#231f20" />
<line x1="391.2" y1="507" x2="391.2" y2="519.5" stroke="#231f20" stroke-width="1.3" />
<polygon points="389.2,518 393.2,518 391.2,522.5" fill="#231f20" />
<line x1="398.8" y1="507" x2="398.8" y2="519.5" stroke="#231f20" stroke-width="1.3" />
<polygon points="396.8,518 400.8,518 398.8,522.5" fill="#231f20" />
<line x1="344.8" y1="568.5" x2="362.3" y2="568.5" stroke="#1c4478" stroke-width="1.8" />
<line x1="353.5" y1="568.5" x2="353.5" y2="566.1" stroke="#1c4478" stroke-width="1" />
<text x="366.3" y="571.2" font-size="7.6" textLength="30.6" lengthAdjust="spacingAndGlyphs">5E3 (n=3)</text>
<line x1="344.8" y1="580.6" x2="362.3" y2="580.6" stroke="#3fb54a" stroke-width="1.8" />
<line x1="353.5" y1="580.6" x2="353.5" y2="578.2" stroke="#3fb54a" stroke-width="1" />
<text x="366.3" y="583.3" font-size="7.6" textLength="57.5" lengthAdjust="spacingAndGlyphs">5E3-vedotin (n=7)</text>
<line x1="344.8" y1="590.5" x2="362.3" y2="590.5" stroke="#c81034" stroke-width="1.8" />
<line x1="353.5" y1="590.5" x2="353.5" y2="588.1" stroke="#c81034" stroke-width="1" />
<text x="366.3" y="593.2" font-size="7.6" textLength="89" lengthAdjust="spacingAndGlyphs">Trastuzumab-vedotin (n=6)</text>
<text x="8.5" y="362.6" font-size="12" font-weight="bold">F</text>
<text x="51.3" y="362.8" font-size="9.7" font-weight="bold" textLength="53.2" lengthAdjust="spacingAndGlyphs">5E3-vedotin</text>
<text x="140.8" y="362.8" font-size="9.7" font-weight="bold" textLength="93.8" lengthAdjust="spacingAndGlyphs">Trastuzumab-vedotin</text>
<text x="259.8" y="362.8" font-size="9.7" font-weight="bold" textLength="16.4" lengthAdjust="spacingAndGlyphs">5E3</text>
<defs>
<linearGradient id="mw" x1="0" x2="1" y1="0" y2="0"><stop offset="0" stop-color="#9c9c9c"/><stop offset="0.25" stop-color="#d6d6d6"/><stop offset="0.55" stop-color="#e8e8e8"/><stop offset="0.8" stop-color="#d8d8d8"/><stop offset="1" stop-color="#9c9c9c"/></linearGradient>
<radialGradient id="mdk" cx="0.5" cy="0.45" r="0.6"><stop offset="0" stop-color="#3b2490"/><stop offset="0.5" stop-color="#2a1664"/><stop offset="1" stop-color="#140a26"/></radialGradient>
<radialGradient id="mb4" cx="0.5" cy="0.45" r="0.6"><stop offset="0" stop-color="#3428a8"/><stop offset="0.5" stop-color="#281670"/><stop offset="0.85" stop-color="#180c38"/><stop offset="1" stop-color="#120a20"/></radialGradient>
<radialGradient id="mg5" cx="0.5" cy="0.64" r="0.6"><stop offset="0" stop-color="#80d848"/><stop offset="0.4" stop-color="#48c890"/><stop offset="0.62" stop-color="#3090e0"/><stop offset="0.8" stop-color="#3038c8"/><stop offset="1" stop-color="#1c0c50"/></radialGradient>
<radialGradient id="gW"><stop offset="0" stop-color="#ffffff"/><stop offset="0.7" stop-color="#f4f4f4"/><stop offset="1" stop-color="#e0e0e0" stop-opacity="0.3"/></radialGradient>
<radialGradient id="hRR"><stop offset="0" stop-color="#ff1212"/><stop offset="0.5" stop-color="#ff1212"/><stop offset="0.62" stop-color="#ffd010"/><stop offset="0.72" stop-color="#70f040"/><stop offset="0.83" stop-color="#30c8e0"/><stop offset="0.93" stop-color="#3060f0" stop-opacity="0.7"/><stop offset="1" stop-color="#3040e0" stop-opacity="0"/></radialGradient>
<radialGradient id="hR"><stop offset="0" stop-color="#ff1212"/><stop offset="0.45" stop-color="#ff1212"/><stop offset="0.56" stop-color="#ffd010"/><stop offset="0.65" stop-color="#70f040"/><stop offset="0.73" stop-color="#30c8e0"/><stop offset="0.83" stop-color="#3050f0" stop-opacity="0.85"/><stop offset="0.93" stop-color="#3020b0" stop-opacity="0.6"/><stop offset="1" stop-color="#2a1080" stop-opacity="0"/></radialGradient>
<radialGradient id="hG"><stop offset="0" stop-color="#60f040"/><stop offset="0.3" stop-color="#30d8c0"/><stop offset="0.6" stop-color="#3070f0" stop-opacity="0.8"/><stop offset="1" stop-color="#3040e0" stop-opacity="0"/></radialGradient>
<radialGradient id="hY"><stop offset="0" stop-color="#ffee10"/><stop offset="0.3" stop-color="#70f040"/><stop offset="0.55" stop-color="#30d0e0"/><stop offset="0.8" stop-color="#3060f0" stop-opacity="0.6"/><stop offset="1" stop-color="#3040e0" stop-opacity="0"/></radialGradient>
<radialGradient id="gPb"><stop offset="0" stop-color="#5060e0"/><stop offset="0.5" stop-color="#4030b0" stop-opacity="0.7"/><stop offset="1" stop-color="#3a1894" stop-opacity="0"/></radialGradient>
<radialGradient id="gK"><stop offset="0" stop-color="#060606"/><stop offset="0.78" stop-color="#060606"/><stop offset="1" stop-color="#060606" stop-opacity="0.2"/></radialGradient>
<radialGradient id="gD"><stop offset="0" stop-color="#26143e"/><stop offset="0.5" stop-color="#140a20"/><stop offset="0.8" stop-color="#0c0a10"/><stop offset="1" stop-color="#0c0c0c" stop-opacity="0.2"/></radialGradient>
<radialGradient id="gP"><stop offset="0" stop-color="#5a34c8"/><stop offset="0.45" stop-color="#3c1a94"/><stop offset="0.8" stop-color="#1e0a40"/><stop offset="1" stop-color="#140828" stop-opacity="0"/></radialGradient>
<radialGradient id="gB"><stop offset="0" stop-color="#5a8cff"/><stop offset="0.35" stop-color="#3434e6"/><stop offset="0.65" stop-color="#3a1894"/><stop offset="0.88" stop-color="#1a0834"/><stop offset="1" stop-color="#140828" stop-opacity="0"/></radialGradient>
<radialGradient id="gG"><stop offset="0" stop-color="#50ff40"/><stop offset="0.25" stop-color="#30e0c0"/><stop offset="0.5" stop-color="#3050f0"/><stop offset="0.75" stop-color="#3a1894"/><stop offset="0.92" stop-color="#1a0834"/><stop offset="1" stop-color="#140828" stop-opacity="0"/></radialGradient>
<radialGradient id="gY"><stop offset="0" stop-color="#ffee10"/><stop offset="0.25" stop-color="#60ff30"/><stop offset="0.45" stop-color="#20c8ff"/><stop offset="0.65" stop-color="#3030e0"/><stop offset="0.85" stop-color="#2a1070"/><stop offset="1" stop-color="#140828" stop-opacity="0"/></radialGradient>
<radialGradient id="gR"><stop offset="0" stop-color="#ff1414"/><stop offset="0.32" stop-color="#ff1414"/><stop offset="0.46" stop-color="#ffd000"/><stop offset="0.58" stop-color="#50ff40"/><stop offset="0.68" stop-color="#20b0ff"/><stop offset="0.8" stop-color="#3030d8"/><stop offset="0.92" stop-color="#2a1070"/><stop offset="1" stop-color="#140828" stop-opacity="0"/></radialGradient>
<radialGradient id="gRR"><stop offset="0" stop-color="#ff1414"/><stop offset="0.55" stop-color="#ff1414"/><stop offset="0.66" stop-color="#ffd000"/><stop offset="0.74" stop-color="#50ff40"/><stop offset="0.82" stop-color="#20b0ff"/><stop offset="0.9" stop-color="#3030d8"/><stop offset="1" stop-color="#1a0840" stop-opacity="0"/></radialGradient>
<radialGradient id="gPk"><stop offset="0" stop-color="#e8b8c8"/><stop offset="0.3" stop-color="#a05080"/><stop offset="0.6" stop-color="#4a1850"/><stop offset="1" stop-color="#1a0820" stop-opacity="0"/></radialGradient>
<radialGradient id="gL"><stop offset="0" stop-color="#f0f0ff"/><stop offset="0.4" stop-color="#c0c0f0"/><stop offset="0.7" stop-color="#6050c0"/><stop offset="1" stop-color="#2a1060" stop-opacity="0"/></radialGradient>
</defs>
<text x="17.4" y="401.2" font-size="8.4" textLength="26" lengthAdjust="spacingAndGlyphs" transform="rotate(-90 17.4 401.2)" style="stroke-width:0.1px">Week 0</text>
<rect x="21.8" y="368.8" width="54.8" height="38.8" fill="#121212" />
<rect x="22.6" y="369.6" width="53.2" height="37.2" fill="#2b2b2b" />
<rect x="50.1" y="370.8" width="8" height="35.8" fill="#323232" />
<line x1="30.4" y1="399.8" x2="30.4" y2="407.6" stroke="#a0a0a0" stroke-width="1.2"/>
<path transform="translate(30.4 368.8)" d="M0,5.2 C1,6.2 1.8,8 2.3,10 C2.6,11.5 2.9,12.8 3.6,14 C4.6,15.3 5.2,17.5 5.5,20 C5.8,23 5.95,26.5 5.85,29.5 C5.7,31.4 4.9,32.6 3.5,33 L-3.5,33 C-4.9,32.6 -5.7,31.4 -5.85,29.5 C-5.95,26.5 -5.8,23 -5.5,20 C-5.2,17.5 -4.6,15.3 -3.6,14 C-2.9,12.8 -2.6,11.5 -2.3,10 C-1.8,8 -1,6.2 0,5.2 Z" fill="url(#mw)"/>
<ellipse cx="28.2" cy="383.8" rx="1.3" ry="1.7" fill="#9a9a9a" opacity="0.3"/><ellipse cx="32.6" cy="383.8" rx="1.3" ry="1.7" fill="#9a9a9a" opacity="0.3"/>
<ellipse cx="25.2" cy="402.4" rx="1.8" ry="1" fill="#d8d8d8"/><ellipse cx="35.6" cy="402.4" rx="1.8" ry="1" fill="#d8d8d8"/>
<line x1="42.2" y1="399.8" x2="42.2" y2="407.6" stroke="#a0a0a0" stroke-width="1.2"/>
<path transform="translate(42.2 368.8)" d="M0,5.2 C1,6.2 1.8,8 2.3,10 C2.6,11.5 2.9,12.8 3.6,14 C4.6,15.3 5.2,17.5 5.5,20 C5.8,23 5.95,26.5 5.85,29.5 C5.7,31.4 4.9,32.6 3.5,33 L-3.5,33 C-4.9,32.6 -5.7,31.4 -5.85,29.5 C-5.95,26.5 -5.8,23 -5.5,20 C-5.2,17.5 -4.6,15.3 -3.6,14 C-2.9,12.8 -2.6,11.5 -2.3,10 C-1.8,8 -1,6.2 0,5.2 Z" fill="url(#mw)"/>
<ellipse cx="40" cy="383.8" rx="1.3" ry="1.7" fill="#9a9a9a" opacity="0.3"/><ellipse cx="44.4" cy="383.8" rx="1.3" ry="1.7" fill="#9a9a9a" opacity="0.3"/>
<ellipse cx="37" cy="402.4" rx="1.8" ry="1" fill="#d8d8d8"/><ellipse cx="47.4" cy="402.4" rx="1.8" ry="1" fill="#d8d8d8"/>
<line x1="66.2" y1="399.8" x2="66.2" y2="407.6" stroke="#a0a0a0" stroke-width="1.2"/>
<path transform="translate(66.2 368.8)" d="M0,5.2 C1,6.2 1.8,8 2.3,10 C2.6,11.5 2.9,12.8 3.6,14 C4.6,15.3 5.2,17.5 5.5,20 C5.8,23 5.95,26.5 5.85,29.5 C5.7,31.4 4.9,32.6 3.5,33 L-3.5,33 C-4.9,32.6 -5.7,31.4 -5.85,29.5 C-5.95,26.5 -5.8,23 -5.5,20 C-5.2,17.5 -4.6,15.3 -3.6,14 C-2.9,12.8 -2.6,11.5 -2.3,10 C-1.8,8 -1,6.2 0,5.2 Z" fill="url(#mw)"/>
<ellipse cx="64" cy="383.8" rx="1.3" ry="1.7" fill="#9a9a9a" opacity="0.3"/><ellipse cx="68.4" cy="383.8" rx="1.3" ry="1.7" fill="#9a9a9a" opacity="0.3"/>
<ellipse cx="61" cy="402.4" rx="1.8" ry="1" fill="#d8d8d8"/><ellipse cx="71.4" cy="402.4" rx="1.8" ry="1" fill="#d8d8d8"/>
<ellipse cx="25.1" cy="395.5" rx="2.75" ry="2.75" fill="url(#gK)"/>
<ellipse cx="35.7" cy="397.2" rx="2.03" ry="2.03" fill="url(#gK)"/>
<ellipse cx="45.8" cy="397.2" rx="2.03" ry="2.03" fill="url(#gK)"/>
<ellipse cx="60.4" cy="396.7" rx="2.75" ry="2.75" fill="url(#gK)"/>
<ellipse cx="70.3" cy="396.7" rx="2.75" ry="2.75" fill="url(#gK)"/>
<rect x="80.5" y="368.8" width="56.1" height="38.8" fill="#121212" />
<rect x="81.3" y="369.6" width="54.5" height="37.2" fill="#2b2b2b" />
<line x1="88.8" y1="399.8" x2="88.8" y2="407.6" stroke="#a0a0a0" stroke-width="1.2"/>
<path transform="translate(88.8 368.8)" d="M0,5.2 C1,6.2 1.8,8 2.3,10 C2.6,11.5 2.9,12.8 3.6,14 C4.6,15.3 5.2,17.5 5.5,20 C5.8,23 5.95,26.5 5.85,29.5 C5.7,31.4 4.9,32.6 3.5,33 L-3.5,33 C-4.9,32.6 -5.7,31.4 -5.85,29.5 C-5.95,26.5 -5.8,23 -5.5,20 C-5.2,17.5 -4.6,15.3 -3.6,14 C-2.9,12.8 -2.6,11.5 -2.3,10 C-1.8,8 -1,6.2 0,5.2 Z" fill="url(#mw)"/>
<ellipse cx="86.6" cy="383.8" rx="1.3" ry="1.7" fill="#9a9a9a" opacity="0.3"/><ellipse cx="91" cy="383.8" rx="1.3" ry="1.7" fill="#9a9a9a" opacity="0.3"/>
<ellipse cx="83.6" cy="402.4" rx="1.8" ry="1" fill="#d8d8d8"/><ellipse cx="94" cy="402.4" rx="1.8" ry="1" fill="#d8d8d8"/>
<line x1="100.9" y1="399.8" x2="100.9" y2="407.6" stroke="#a0a0a0" stroke-width="1.2"/>
<path transform="translate(100.9 368.8)" d="M0,5.2 C1,6.2 1.8,8 2.3,10 C2.6,11.5 2.9,12.8 3.6,14 C4.6,15.3 5.2,17.5 5.5,20 C5.8,23 5.95,26.5 5.85,29.5 C5.7,31.4 4.9,32.6 3.5,33 L-3.5,33 C-4.9,32.6 -5.7,31.4 -5.85,29.5 C-5.95,26.5 -5.8,23 -5.5,20 C-5.2,17.5 -4.6,15.3 -3.6,14 C-2.9,12.8 -2.6,11.5 -2.3,10 C-1.8,8 -1,6.2 0,5.2 Z" fill="url(#mw)"/>
<ellipse cx="98.7" cy="383.8" rx="1.3" ry="1.7" fill="#9a9a9a" opacity="0.3"/><ellipse cx="103.1" cy="383.8" rx="1.3" ry="1.7" fill="#9a9a9a" opacity="0.3"/>
<ellipse cx="95.7" cy="402.4" rx="1.8" ry="1" fill="#d8d8d8"/><ellipse cx="106.1" cy="402.4" rx="1.8" ry="1" fill="#d8d8d8"/>
<line x1="113.2" y1="399.8" x2="113.2" y2="407.6" stroke="#a0a0a0" stroke-width="1.2"/>
<path transform="translate(113.2 368.8)" d="M0,5.2 C1,6.2 1.8,8 2.3,10 C2.6,11.5 2.9,12.8 3.6,14 C4.6,15.3 5.2,17.5 5.5,20 C5.8,23 5.95,26.5 5.85,29.5 C5.7,31.4 4.9,32.6 3.5,33 L-3.5,33 C-4.9,32.6 -5.7,31.4 -5.85,29.5 C-5.95,26.5 -5.8,23 -5.5,20 C-5.2,17.5 -4.6,15.3 -3.6,14 C-2.9,12.8 -2.6,11.5 -2.3,10 C-1.8,8 -1,6.2 0,5.2 Z" fill="url(#mw)"/>
<ellipse cx="111" cy="383.8" rx="1.3" ry="1.7" fill="#9a9a9a" opacity="0.3"/><ellipse cx="115.4" cy="383.8" rx="1.3" ry="1.7" fill="#9a9a9a" opacity="0.3"/>
<ellipse cx="108" cy="402.4" rx="1.8" ry="1" fill="#d8d8d8"/><ellipse cx="118.4" cy="402.4" rx="1.8" ry="1" fill="#d8d8d8"/>
<line x1="125.2" y1="399.8" x2="125.2" y2="407.6" stroke="#a0a0a0" stroke-width="1.2"/>
<path transform="translate(125.2 368.8)" d="M0,5.2 C1,6.2 1.8,8 2.3,10 C2.6,11.5 2.9,12.8 3.6,14 C4.6,15.3 5.2,17.5 5.5,20 C5.8,23 5.95,26.5 5.85,29.5 C5.7,31.4 4.9,32.6 3.5,33 L-3.5,33 C-4.9,32.6 -5.7,31.4 -5.85,29.5 C-5.95,26.5 -5.8,23 -5.5,20 C-5.2,17.5 -4.6,15.3 -3.6,14 C-2.9,12.8 -2.6,11.5 -2.3,10 C-1.8,8 -1,6.2 0,5.2 Z" fill="url(#mw)"/>
<ellipse cx="123" cy="383.8" rx="1.3" ry="1.7" fill="#9a9a9a" opacity="0.3"/><ellipse cx="127.4" cy="383.8" rx="1.3" ry="1.7" fill="#9a9a9a" opacity="0.3"/>
<ellipse cx="120" cy="402.4" rx="1.8" ry="1" fill="#d8d8d8"/><ellipse cx="130.4" cy="402.4" rx="1.8" ry="1" fill="#d8d8d8"/>
<ellipse cx="85.8" cy="396.7" rx="2.75" ry="2.75" fill="url(#gK)"/>
<ellipse cx="94.3" cy="396.5" rx="3.48" ry="3.48" fill="url(#gK)"/>
<ellipse cx="98.2" cy="396.3" rx="3.48" ry="3.48" fill="url(#gK)"/>
<ellipse cx="106.5" cy="396.5" rx="3.33" ry="3.33" fill="url(#gK)"/>
<ellipse cx="110" cy="383.3" rx="2.46" ry="2.46" fill="url(#gK)"/>
<ellipse cx="113.8" cy="383.6" rx="2.46" ry="2.46" fill="url(#gK)"/>
<ellipse cx="117.2" cy="396.5" rx="3.33" ry="3.33" fill="url(#gK)"/>
<ellipse cx="121.5" cy="396.5" rx="3.33" ry="3.33" fill="url(#gK)"/>
<ellipse cx="128.5" cy="396.5" rx="2.75" ry="2.75" fill="url(#gK)"/>
<rect x="142.5" y="368.8" width="32.3" height="38.8" fill="#121212" />
<rect x="143.3" y="369.6" width="30.7" height="37.2" fill="#2b2b2b" />
<line x1="150.4" y1="399.8" x2="150.4" y2="407.6" stroke="#a0a0a0" stroke-width="1.2"/>
<path transform="translate(150.4 368.8)" d="M0,5.2 C1,6.2 1.8,8 2.3,10 C2.6,11.5 2.9,12.8 3.6,14 C4.6,15.3 5.2,17.5 5.5,20 C5.8,23 5.95,26.5 5.85,29.5 C5.7,31.4 4.9,32.6 3.5,33 L-3.5,33 C-4.9,32.6 -5.7,31.4 -5.85,29.5 C-5.95,26.5 -5.8,23 -5.5,20 C-5.2,17.5 -4.6,15.3 -3.6,14 C-2.9,12.8 -2.6,11.5 -2.3,10 C-1.8,8 -1,6.2 0,5.2 Z" fill="url(#mw)"/>
<ellipse cx="148.2" cy="383.8" rx="1.3" ry="1.7" fill="#9a9a9a" opacity="0.3"/><ellipse cx="152.6" cy="383.8" rx="1.3" ry="1.7" fill="#9a9a9a" opacity="0.3"/>
<ellipse cx="145.2" cy="402.4" rx="1.8" ry="1" fill="#d8d8d8"/><ellipse cx="155.6" cy="402.4" rx="1.8" ry="1" fill="#d8d8d8"/>
<line x1="162.6" y1="399.8" x2="162.6" y2="407.6" stroke="#a0a0a0" stroke-width="1.2"/>
<path transform="translate(162.6 368.8)" d="M0,5.2 C1,6.2 1.8,8 2.3,10 C2.6,11.5 2.9,12.8 3.6,14 C4.6,15.3 5.2,17.5 5.5,20 C5.8,23 5.95,26.5 5.85,29.5 C5.7,31.4 4.9,32.6 3.5,33 L-3.5,33 C-4.9,32.6 -5.7,31.4 -5.85,29.5 C-5.95,26.5 -5.8,23 -5.5,20 C-5.2,17.5 -4.6,15.3 -3.6,14 C-2.9,12.8 -2.6,11.5 -2.3,10 C-1.8,8 -1,6.2 0,5.2 Z" fill="url(#mw)"/>
<ellipse cx="160.4" cy="383.8" rx="1.3" ry="1.7" fill="#9a9a9a" opacity="0.3"/><ellipse cx="164.8" cy="383.8" rx="1.3" ry="1.7" fill="#9a9a9a" opacity="0.3"/>
<ellipse cx="157.4" cy="402.4" rx="1.8" ry="1" fill="#d8d8d8"/><ellipse cx="167.8" cy="402.4" rx="1.8" ry="1" fill="#d8d8d8"/>
<ellipse cx="146" cy="396" rx="2.75" ry="2.75" fill="url(#gK)"/>
<ellipse cx="156.5" cy="396" rx="3.04" ry="3.04" fill="url(#gK)"/>
<ellipse cx="167" cy="396" rx="3.04" ry="3.04" fill="url(#gK)"/>
<rect x="178.8" y="368.8" width="53.6" height="38.8" fill="#121212" />
<rect x="179.6" y="369.6" width="52" height="37.2" fill="#2b2b2b" />
<line x1="185.9" y1="399.8" x2="185.9" y2="407.6" stroke="#a0a0a0" stroke-width="1.2"/>
<path transform="translate(185.9 368.8)" d="M0,5.2 C1,6.2 1.8,8 2.3,10 C2.6,11.5 2.9,12.8 3.6,14 C4.6,15.3 5.2,17.5 5.5,20 C5.8,23 5.95,26.5 5.85,29.5 C5.7,31.4 4.9,32.6 3.5,33 L-3.5,33 C-4.9,32.6 -5.7,31.4 -5.85,29.5 C-5.95,26.5 -5.8,23 -5.5,20 C-5.2,17.5 -4.6,15.3 -3.6,14 C-2.9,12.8 -2.6,11.5 -2.3,10 C-1.8,8 -1,6.2 0,5.2 Z" fill="url(#mw)"/>
<ellipse cx="183.7" cy="383.8" rx="1.3" ry="1.7" fill="#9a9a9a" opacity="0.3"/><ellipse cx="188.1" cy="383.8" rx="1.3" ry="1.7" fill="#9a9a9a" opacity="0.3"/>
<ellipse cx="180.7" cy="402.4" rx="1.8" ry="1" fill="#d8d8d8"/><ellipse cx="191.1" cy="402.4" rx="1.8" ry="1" fill="#d8d8d8"/>
<line x1="198" y1="399.8" x2="198" y2="407.6" stroke="#a0a0a0" stroke-width="1.2"/>
<path transform="translate(198 368.8)" d="M0,5.2 C1,6.2 1.8,8 2.3,10 C2.6,11.5 2.9,12.8 3.6,14 C4.6,15.3 5.2,17.5 5.5,20 C5.8,23 5.95,26.5 5.85,29.5 C5.7,31.4 4.9,32.6 3.5,33 L-3.5,33 C-4.9,32.6 -5.7,31.4 -5.85,29.5 C-5.95,26.5 -5.8,23 -5.5,20 C-5.2,17.5 -4.6,15.3 -3.6,14 C-2.9,12.8 -2.6,11.5 -2.3,10 C-1.8,8 -1,6.2 0,5.2 Z" fill="url(#mw)"/>
<ellipse cx="195.8" cy="383.8" rx="1.3" ry="1.7" fill="#9a9a9a" opacity="0.3"/><ellipse cx="200.2" cy="383.8" rx="1.3" ry="1.7" fill="#9a9a9a" opacity="0.3"/>
<ellipse cx="192.8" cy="402.4" rx="1.8" ry="1" fill="#d8d8d8"/><ellipse cx="203.2" cy="402.4" rx="1.8" ry="1" fill="#d8d8d8"/>
<line x1="210.1" y1="399.8" x2="210.1" y2="407.6" stroke="#a0a0a0" stroke-width="1.2"/>
<path transform="translate(210.1 368.8)" d="M0,5.2 C1,6.2 1.8,8 2.3,10 C2.6,11.5 2.9,12.8 3.6,14 C4.6,15.3 5.2,17.5 5.5,20 C5.8,23 5.95,26.5 5.85,29.5 C5.7,31.4 4.9,32.6 3.5,33 L-3.5,33 C-4.9,32.6 -5.7,31.4 -5.85,29.5 C-5.95,26.5 -5.8,23 -5.5,20 C-5.2,17.5 -4.6,15.3 -3.6,14 C-2.9,12.8 -2.6,11.5 -2.3,10 C-1.8,8 -1,6.2 0,5.2 Z" fill="url(#mw)"/>
<ellipse cx="207.9" cy="383.8" rx="1.3" ry="1.7" fill="#9a9a9a" opacity="0.3"/><ellipse cx="212.3" cy="383.8" rx="1.3" ry="1.7" fill="#9a9a9a" opacity="0.3"/>
<ellipse cx="204.9" cy="402.4" rx="1.8" ry="1" fill="#d8d8d8"/><ellipse cx="215.3" cy="402.4" rx="1.8" ry="1" fill="#d8d8d8"/>
<line x1="221.9" y1="399.8" x2="221.9" y2="407.6" stroke="#a0a0a0" stroke-width="1.2"/>
<path transform="translate(221.9 368.8)" d="M0,5.2 C1,6.2 1.8,8 2.3,10 C2.6,11.5 2.9,12.8 3.6,14 C4.6,15.3 5.2,17.5 5.5,20 C5.8,23 5.95,26.5 5.85,29.5 C5.7,31.4 4.9,32.6 3.5,33 L-3.5,33 C-4.9,32.6 -5.7,31.4 -5.85,29.5 C-5.95,26.5 -5.8,23 -5.5,20 C-5.2,17.5 -4.6,15.3 -3.6,14 C-2.9,12.8 -2.6,11.5 -2.3,10 C-1.8,8 -1,6.2 0,5.2 Z" fill="url(#mw)"/>
<ellipse cx="219.7" cy="383.8" rx="1.3" ry="1.7" fill="#9a9a9a" opacity="0.3"/><ellipse cx="224.1" cy="383.8" rx="1.3" ry="1.7" fill="#9a9a9a" opacity="0.3"/>
<ellipse cx="216.7" cy="402.4" rx="1.8" ry="1" fill="#d8d8d8"/><ellipse cx="227.1" cy="402.4" rx="1.8" ry="1" fill="#d8d8d8"/>
<ellipse cx="180.8" cy="396.5" rx="2.46" ry="2.46" fill="url(#gK)"/>
<ellipse cx="190.7" cy="396" rx="2.32" ry="2.32" fill="url(#gK)"/>
<ellipse cx="200.3" cy="396" rx="3.04" ry="3.04" fill="url(#gK)"/>
<ellipse cx="203.3" cy="396" rx="2.9" ry="2.9" fill="url(#gK)"/>
<ellipse cx="207.5" cy="396.5" rx="3.04" ry="3.04" fill="url(#gK)"/>
<ellipse cx="217" cy="395.5" rx="2.32" ry="2.32" fill="url(#gK)"/>
<ellipse cx="226" cy="396" rx="2.46" ry="2.46" fill="url(#gK)"/>
<rect x="238.8" y="368.8" width="57.8" height="38.8" fill="#121212" />
<rect x="239.6" y="369.6" width="56.2" height="37.2" fill="#2b2b2b" />
<line x1="245.8" y1="399.8" x2="245.8" y2="407.6" stroke="#a0a0a0" stroke-width="1.2"/>
<path transform="translate(245.8 368.8)" d="M0,5.2 C1,6.2 1.8,8 2.3,10 C2.6,11.5 2.9,12.8 3.6,14 C4.6,15.3 5.2,17.5 5.5,20 C5.8,23 5.95,26.5 5.85,29.5 C5.7,31.4 4.9,32.6 3.5,33 L-3.5,33 C-4.9,32.6 -5.7,31.4 -5.85,29.5 C-5.95,26.5 -5.8,23 -5.5,20 C-5.2,17.5 -4.6,15.3 -3.6,14 C-2.9,12.8 -2.6,11.5 -2.3,10 C-1.8,8 -1,6.2 0,5.2 Z" fill="url(#mw)"/>
<ellipse cx="243.6" cy="383.8" rx="1.3" ry="1.7" fill="#9a9a9a" opacity="0.3"/><ellipse cx="248" cy="383.8" rx="1.3" ry="1.7" fill="#9a9a9a" opacity="0.3"/>
<ellipse cx="240.6" cy="402.4" rx="1.8" ry="1" fill="#d8d8d8"/><ellipse cx="251" cy="402.4" rx="1.8" ry="1" fill="#d8d8d8"/>
<line x1="258.1" y1="399.8" x2="258.1" y2="407.6" stroke="#a0a0a0" stroke-width="1.2"/>
<path transform="translate(258.1 368.8)" d="M0,5.2 C1,6.2 1.8,8 2.3,10 C2.6,11.5 2.9,12.8 3.6,14 C4.6,15.3 5.2,17.5 5.5,20 C5.8,23 5.95,26.5 5.85,29.5 C5.7,31.4 4.9,32.6 3.5,33 L-3.5,33 C-4.9,32.6 -5.7,31.4 -5.85,29.5 C-5.95,26.5 -5.8,23 -5.5,20 C-5.2,17.5 -4.6,15.3 -3.6,14 C-2.9,12.8 -2.6,11.5 -2.3,10 C-1.8,8 -1,6.2 0,5.2 Z" fill="url(#mw)"/>
<ellipse cx="255.9" cy="383.8" rx="1.3" ry="1.7" fill="#9a9a9a" opacity="0.3"/><ellipse cx="260.3" cy="383.8" rx="1.3" ry="1.7" fill="#9a9a9a" opacity="0.3"/>
<ellipse cx="252.9" cy="402.4" rx="1.8" ry="1" fill="#d8d8d8"/><ellipse cx="263.3" cy="402.4" rx="1.8" ry="1" fill="#d8d8d8"/>
<line x1="270.4" y1="399.8" x2="270.4" y2="407.6" stroke="#a0a0a0" stroke-width="1.2"/>
<path transform="translate(270.4 368.8)" d="M0,5.2 C1,6.2 1.8,8 2.3,10 C2.6,11.5 2.9,12.8 3.6,14 C4.6,15.3 5.2,17.5 5.5,20 C5.8,23 5.95,26.5 5.85,29.5 C5.7,31.4 4.9,32.6 3.5,33 L-3.5,33 C-4.9,32.6 -5.7,31.4 -5.85,29.5 C-5.95,26.5 -5.8,23 -5.5,20 C-5.2,17.5 -4.6,15.3 -3.6,14 C-2.9,12.8 -2.6,11.5 -2.3,10 C-1.8,8 -1,6.2 0,5.2 Z" fill="url(#mw)"/>
<ellipse cx="268.2" cy="383.8" rx="1.3" ry="1.7" fill="#9a9a9a" opacity="0.3"/><ellipse cx="272.6" cy="383.8" rx="1.3" ry="1.7" fill="#9a9a9a" opacity="0.3"/>
<ellipse cx="265.2" cy="402.4" rx="1.8" ry="1" fill="#d8d8d8"/><ellipse cx="275.6" cy="402.4" rx="1.8" ry="1" fill="#d8d8d8"/>
<line x1="282.6" y1="399.8" x2="282.6" y2="407.6" stroke="#a0a0a0" stroke-width="1.2"/>
<path transform="translate(282.6 368.8)" d="M0,5.2 C1,6.2 1.8,8 2.3,10 C2.6,11.5 2.9,12.8 3.6,14 C4.6,15.3 5.2,17.5 5.5,20 C5.8,23 5.95,26.5 5.85,29.5 C5.7,31.4 4.9,32.6 3.5,33 L-3.5,33 C-4.9,32.6 -5.7,31.4 -5.85,29.5 C-5.95,26.5 -5.8,23 -5.5,20 C-5.2,17.5 -4.6,15.3 -3.6,14 C-2.9,12.8 -2.6,11.5 -2.3,10 C-1.8,8 -1,6.2 0,5.2 Z" fill="url(#mw)"/>
<ellipse cx="280.4" cy="383.8" rx="1.3" ry="1.7" fill="#9a9a9a" opacity="0.3"/><ellipse cx="284.8" cy="383.8" rx="1.3" ry="1.7" fill="#9a9a9a" opacity="0.3"/>
<ellipse cx="277.4" cy="402.4" rx="1.8" ry="1" fill="#d8d8d8"/><ellipse cx="287.8" cy="402.4" rx="1.8" ry="1" fill="#d8d8d8"/>
<ellipse cx="241.7" cy="395" rx="2.17" ry="2.17" fill="url(#gK)"/>
<ellipse cx="252" cy="396" rx="2.32" ry="2.32" fill="url(#gK)"/>
<ellipse cx="264" cy="396.5" rx="2.32" ry="2.32" fill="url(#gK)"/>
<ellipse cx="276" cy="396.5" rx="2.17" ry="2.17" fill="url(#gK)"/>
<ellipse cx="287" cy="396" rx="2.03" ry="2.03" fill="url(#gK)"/>
<text x="17.4" y="444.15" font-size="8.4" textLength="26" lengthAdjust="spacingAndGlyphs" transform="rotate(-90 17.4 444.15)" style="stroke-width:0.1px">Week 1</text>
<rect x="21.8" y="411.75" width="54.8" height="38.8" fill="#121212" />
<rect x="22.6" y="412.55" width="53.2" height="37.2" fill="#2b2b2b" />
<rect x="50.1" y="413.75" width="8" height="35.8" fill="#323232" />
<line x1="30.4" y1="442.75" x2="30.4" y2="450.55" stroke="#a0a0a0" stroke-width="1.2"/>
<path transform="translate(30.4 411.75)" d="M0,5.2 C1,6.2 1.8,8 2.3,10 C2.6,11.5 2.9,12.8 3.6,14 C4.6,15.3 5.2,17.5 5.5,20 C5.8,23 5.95,26.5 5.85,29.5 C5.7,31.4 4.9,32.6 3.5,33 L-3.5,33 C-4.9,32.6 -5.7,31.4 -5.85,29.5 C-5.95,26.5 -5.8,23 -5.5,20 C-5.2,17.5 -4.6,15.3 -3.6,14 C-2.9,12.8 -2.6,11.5 -2.3,10 C-1.8,8 -1,6.2 0,5.2 Z" fill="url(#mw)"/>
<ellipse cx="28.2" cy="426.75" rx="1.3" ry="1.7" fill="#9a9a9a" opacity="0.3"/><ellipse cx="32.6" cy="426.75" rx="1.3" ry="1.7" fill="#9a9a9a" opacity="0.3"/>
<ellipse cx="25.2" cy="445.35" rx="1.8" ry="1" fill="#d8d8d8"/><ellipse cx="35.6" cy="445.35" rx="1.8" ry="1" fill="#d8d8d8"/>
<line x1="42.2" y1="442.75" x2="42.2" y2="450.55" stroke="#a0a0a0" stroke-width="1.2"/>
<path transform="translate(42.2 411.75)" d="M0,5.2 C1,6.2 1.8,8 2.3,10 C2.6,11.5 2.9,12.8 3.6,14 C4.6,15.3 5.2,17.5 5.5,20 C5.8,23 5.95,26.5 5.85,29.5 C5.7,31.4 4.9,32.6 3.5,33 L-3.5,33 C-4.9,32.6 -5.7,31.4 -5.85,29.5 C-5.95,26.5 -5.8,23 -5.5,20 C-5.2,17.5 -4.6,15.3 -3.6,14 C-2.9,12.8 -2.6,11.5 -2.3,10 C-1.8,8 -1,6.2 0,5.2 Z" fill="url(#mw)"/>
<ellipse cx="40" cy="426.75" rx="1.3" ry="1.7" fill="#9a9a9a" opacity="0.3"/><ellipse cx="44.4" cy="426.75" rx="1.3" ry="1.7" fill="#9a9a9a" opacity="0.3"/>
<ellipse cx="37" cy="445.35" rx="1.8" ry="1" fill="#d8d8d8"/><ellipse cx="47.4" cy="445.35" rx="1.8" ry="1" fill="#d8d8d8"/>
<line x1="66.2" y1="442.75" x2="66.2" y2="450.55" stroke="#a0a0a0" stroke-width="1.2"/>
<path transform="translate(66.2 411.75)" d="M0,5.2 C1,6.2 1.8,8 2.3,10 C2.6,11.5 2.9,12.8 3.6,14 C4.6,15.3 5.2,17.5 5.5,20 C5.8,23 5.95,26.5 5.85,29.5 C5.7,31.4 4.9,32.6 3.5,33 L-3.5,33 C-4.9,32.6 -5.7,31.4 -5.85,29.5 C-5.95,26.5 -5.8,23 -5.5,20 C-5.2,17.5 -4.6,15.3 -3.6,14 C-2.9,12.8 -2.6,11.5 -2.3,10 C-1.8,8 -1,6.2 0,5.2 Z" fill="url(#mw)"/>
<ellipse cx="64" cy="426.75" rx="1.3" ry="1.7" fill="#9a9a9a" opacity="0.3"/><ellipse cx="68.4" cy="426.75" rx="1.3" ry="1.7" fill="#9a9a9a" opacity="0.3"/>
<ellipse cx="61" cy="445.35" rx="1.8" ry="1" fill="#d8d8d8"/><ellipse cx="71.4" cy="445.35" rx="1.8" ry="1" fill="#d8d8d8"/>
<rect x="80.5" y="411.75" width="56.1" height="38.8" fill="#121212" />
<rect x="81.3" y="412.55" width="54.5" height="37.2" fill="#2b2b2b" />
<line x1="88.8" y1="442.75" x2="88.8" y2="450.55" stroke="#a0a0a0" stroke-width="1.2"/>
<path transform="translate(88.8 411.75)" d="M0,5.2 C1,6.2 1.8,8 2.3,10 C2.6,11.5 2.9,12.8 3.6,14 C4.6,15.3 5.2,17.5 5.5,20 C5.8,23 5.95,26.5 5.85,29.5 C5.7,31.4 4.9,32.6 3.5,33 L-3.5,33 C-4.9,32.6 -5.7,31.4 -5.85,29.5 C-5.95,26.5 -5.8,23 -5.5,20 C-5.2,17.5 -4.6,15.3 -3.6,14 C-2.9,12.8 -2.6,11.5 -2.3,10 C-1.8,8 -1,6.2 0,5.2 Z" fill="url(#mw)"/>
<ellipse cx="86.6" cy="426.75" rx="1.3" ry="1.7" fill="#9a9a9a" opacity="0.3"/><ellipse cx="91" cy="426.75" rx="1.3" ry="1.7" fill="#9a9a9a" opacity="0.3"/>
<ellipse cx="83.6" cy="445.35" rx="1.8" ry="1" fill="#d8d8d8"/><ellipse cx="94" cy="445.35" rx="1.8" ry="1" fill="#d8d8d8"/>
<line x1="100.9" y1="442.75" x2="100.9" y2="450.55" stroke="#a0a0a0" stroke-width="1.2"/>
<path transform="translate(100.9 411.75)" d="M0,5.2 C1,6.2 1.8,8 2.3,10 C2.6,11.5 2.9,12.8 3.6,14 C4.6,15.3 5.2,17.5 5.5,20 C5.8,23 5.95,26.5 5.85,29.5 C5.7,31.4 4.9,32.6 3.5,33 L-3.5,33 C-4.9,32.6 -5.7,31.4 -5.85,29.5 C-5.95,26.5 -5.8,23 -5.5,20 C-5.2,17.5 -4.6,15.3 -3.6,14 C-2.9,12.8 -2.6,11.5 -2.3,10 C-1.8,8 -1,6.2 0,5.2 Z" fill="url(#mw)"/>
<ellipse cx="98.7" cy="426.75" rx="1.3" ry="1.7" fill="#9a9a9a" opacity="0.3"/><ellipse cx="103.1" cy="426.75" rx="1.3" ry="1.7" fill="#9a9a9a" opacity="0.3"/>
<ellipse cx="95.7" cy="445.35" rx="1.8" ry="1" fill="#d8d8d8"/><ellipse cx="106.1" cy="445.35" rx="1.8" ry="1" fill="#d8d8d8"/>
<line x1="113.2" y1="442.75" x2="113.2" y2="450.55" stroke="#a0a0a0" stroke-width="1.2"/>
<path transform="translate(113.2 411.75)" d="M0,5.2 C1,6.2 1.8,8 2.3,10 C2.6,11.5 2.9,12.8 3.6,14 C4.6,15.3 5.2,17.5 5.5,20 C5.8,23 5.95,26.5 5.85,29.5 C5.7,31.4 4.9,32.6 3.5,33 L-3.5,33 C-4.9,32.6 -5.7,31.4 -5.85,29.5 C-5.95,26.5 -5.8,23 -5.5,20 C-5.2,17.5 -4.6,15.3 -3.6,14 C-2.9,12.8 -2.6,11.5 -2.3,10 C-1.8,8 -1,6.2 0,5.2 Z" fill="url(#mw)"/>
<ellipse cx="111" cy="426.75" rx="1.3" ry="1.7" fill="#9a9a9a" opacity="0.3"/><ellipse cx="115.4" cy="426.75" rx="1.3" ry="1.7" fill="#9a9a9a" opacity="0.3"/>
<ellipse cx="108" cy="445.35" rx="1.8" ry="1" fill="#d8d8d8"/><ellipse cx="118.4" cy="445.35" rx="1.8" ry="1" fill="#d8d8d8"/>
<line x1="125.2" y1="442.75" x2="125.2" y2="450.55" stroke="#a0a0a0" stroke-width="1.2"/>
<path transform="translate(125.2 411.75)" d="M0,5.2 C1,6.2 1.8,8 2.3,10 C2.6,11.5 2.9,12.8 3.6,14 C4.6,15.3 5.2,17.5 5.5,20 C5.8,23 5.95,26.5 5.85,29.5 C5.7,31.4 4.9,32.6 3.5,33 L-3.5,33 C-4.9,32.6 -5.7,31.4 -5.85,29.5 C-5.95,26.5 -5.8,23 -5.5,20 C-5.2,17.5 -4.6,15.3 -3.6,14 C-2.9,12.8 -2.6,11.5 -2.3,10 C-1.8,8 -1,6.2 0,5.2 Z" fill="url(#mw)"/>
<ellipse cx="123" cy="426.75" rx="1.3" ry="1.7" fill="#9a9a9a" opacity="0.3"/><ellipse cx="127.4" cy="426.75" rx="1.3" ry="1.7" fill="#9a9a9a" opacity="0.3"/>
<ellipse cx="120" cy="445.35" rx="1.8" ry="1" fill="#d8d8d8"/><ellipse cx="130.4" cy="445.35" rx="1.8" ry="1" fill="#d8d8d8"/>
<rect x="142.5" y="411.75" width="32.3" height="38.8" fill="#121212" />
<rect x="143.3" y="412.55" width="30.7" height="37.2" fill="#2b2b2b" />
<line x1="150.4" y1="442.75" x2="150.4" y2="450.55" stroke="#a0a0a0" stroke-width="1.2"/>
<path transform="translate(150.4 411.75)" d="M0,5.2 C1,6.2 1.8,8 2.3,10 C2.6,11.5 2.9,12.8 3.6,14 C4.6,15.3 5.2,17.5 5.5,20 C5.8,23 5.95,26.5 5.85,29.5 C5.7,31.4 4.9,32.6 3.5,33 L-3.5,33 C-4.9,32.6 -5.7,31.4 -5.85,29.5 C-5.95,26.5 -5.8,23 -5.5,20 C-5.2,17.5 -4.6,15.3 -3.6,14 C-2.9,12.8 -2.6,11.5 -2.3,10 C-1.8,8 -1,6.2 0,5.2 Z" fill="url(#mw)"/>
<ellipse cx="148.2" cy="426.75" rx="1.3" ry="1.7" fill="#9a9a9a" opacity="0.3"/><ellipse cx="152.6" cy="426.75" rx="1.3" ry="1.7" fill="#9a9a9a" opacity="0.3"/>
<ellipse cx="145.2" cy="445.35" rx="1.8" ry="1" fill="#d8d8d8"/><ellipse cx="155.6" cy="445.35" rx="1.8" ry="1" fill="#d8d8d8"/>
<line x1="162.6" y1="442.75" x2="162.6" y2="450.55" stroke="#a0a0a0" stroke-width="1.2"/>
<path transform="translate(162.6 411.75)" d="M0,5.2 C1,6.2 1.8,8 2.3,10 C2.6,11.5 2.9,12.8 3.6,14 C4.6,15.3 5.2,17.5 5.5,20 C5.8,23 5.95,26.5 5.85,29.5 C5.7,31.4 4.9,32.6 3.5,33 L-3.5,33 C-4.9,32.6 -5.7,31.4 -5.85,29.5 C-5.95,26.5 -5.8,23 -5.5,20 C-5.2,17.5 -4.6,15.3 -3.6,14 C-2.9,12.8 -2.6,11.5 -2.3,10 C-1.8,8 -1,6.2 0,5.2 Z" fill="url(#mw)"/>
<ellipse cx="160.4" cy="426.75" rx="1.3" ry="1.7" fill="#9a9a9a" opacity="0.3"/><ellipse cx="164.8" cy="426.75" rx="1.3" ry="1.7" fill="#9a9a9a" opacity="0.3"/>
<ellipse cx="157.4" cy="445.35" rx="1.8" ry="1" fill="#d8d8d8"/><ellipse cx="167.8" cy="445.35" rx="1.8" ry="1" fill="#d8d8d8"/>
<ellipse cx="146.3" cy="439.8" rx="3.33" ry="3.33" fill="url(#gK)"/>
<ellipse cx="155.9" cy="440" rx="3.62" ry="3.62" fill="url(#gK)"/>
<ellipse cx="158.8" cy="440" rx="3.04" ry="3.04" fill="url(#gK)"/>
<ellipse cx="167.1" cy="440" rx="3.48" ry="3.48" fill="url(#gK)"/>
<rect x="178.8" y="411.75" width="53.6" height="38.8" fill="#121212" />
<rect x="179.6" y="412.55" width="52" height="37.2" fill="#2b2b2b" />
<line x1="185.9" y1="442.75" x2="185.9" y2="450.55" stroke="#a0a0a0" stroke-width="1.2"/>
<path transform="translate(185.9 411.75)" d="M0,5.2 C1,6.2 1.8,8 2.3,10 C2.6,11.5 2.9,12.8 3.6,14 C4.6,15.3 5.2,17.5 5.5,20 C5.8,23 5.95,26.5 5.85,29.5 C5.7,31.4 4.9,32.6 3.5,33 L-3.5,33 C-4.9,32.6 -5.7,31.4 -5.85,29.5 C-5.95,26.5 -5.8,23 -5.5,20 C-5.2,17.5 -4.6,15.3 -3.6,14 C-2.9,12.8 -2.6,11.5 -2.3,10 C-1.8,8 -1,6.2 0,5.2 Z" fill="url(#mw)"/>
<ellipse cx="183.7" cy="426.75" rx="1.3" ry="1.7" fill="#9a9a9a" opacity="0.3"/><ellipse cx="188.1" cy="426.75" rx="1.3" ry="1.7" fill="#9a9a9a" opacity="0.3"/>
<ellipse cx="180.7" cy="445.35" rx="1.8" ry="1" fill="#d8d8d8"/><ellipse cx="191.1" cy="445.35" rx="1.8" ry="1" fill="#d8d8d8"/>
<line x1="198" y1="442.75" x2="198" y2="450.55" stroke="#a0a0a0" stroke-width="1.2"/>
<path transform="translate(198 411.75)" d="M0,5.2 C1,6.2 1.8,8 2.3,10 C2.6,11.5 2.9,12.8 3.6,14 C4.6,15.3 5.2,17.5 5.5,20 C5.8,23 5.95,26.5 5.85,29.5 C5.7,31.4 4.9,32.6 3.5,33 L-3.5,33 C-4.9,32.6 -5.7,31.4 -5.85,29.5 C-5.95,26.5 -5.8,23 -5.5,20 C-5.2,17.5 -4.6,15.3 -3.6,14 C-2.9,12.8 -2.6,11.5 -2.3,10 C-1.8,8 -1,6.2 0,5.2 Z" fill="url(#mw)"/>
<ellipse cx="195.8" cy="426.75" rx="1.3" ry="1.7" fill="#9a9a9a" opacity="0.3"/><ellipse cx="200.2" cy="426.75" rx="1.3" ry="1.7" fill="#9a9a9a" opacity="0.3"/>
<ellipse cx="192.8" cy="445.35" rx="1.8" ry="1" fill="#d8d8d8"/><ellipse cx="203.2" cy="445.35" rx="1.8" ry="1" fill="#d8d8d8"/>
<line x1="210.1" y1="442.75" x2="210.1" y2="450.55" stroke="#a0a0a0" stroke-width="1.2"/>
<path transform="translate(210.1 411.75)" d="M0,5.2 C1,6.2 1.8,8 2.3,10 C2.6,11.5 2.9,12.8 3.6,14 C4.6,15.3 5.2,17.5 5.5,20 C5.8,23 5.95,26.5 5.85,29.5 C5.7,31.4 4.9,32.6 3.5,33 L-3.5,33 C-4.9,32.6 -5.7,31.4 -5.85,29.5 C-5.95,26.5 -5.8,23 -5.5,20 C-5.2,17.5 -4.6,15.3 -3.6,14 C-2.9,12.8 -2.6,11.5 -2.3,10 C-1.8,8 -1,6.2 0,5.2 Z" fill="url(#mw)"/>
<ellipse cx="207.9" cy="426.75" rx="1.3" ry="1.7" fill="#9a9a9a" opacity="0.3"/><ellipse cx="212.3" cy="426.75" rx="1.3" ry="1.7" fill="#9a9a9a" opacity="0.3"/>
<ellipse cx="204.9" cy="445.35" rx="1.8" ry="1" fill="#d8d8d8"/><ellipse cx="215.3" cy="445.35" rx="1.8" ry="1" fill="#d8d8d8"/>
<line x1="221.9" y1="442.75" x2="221.9" y2="450.55" stroke="#a0a0a0" stroke-width="1.2"/>
<path transform="translate(221.9 411.75)" d="M0,5.2 C1,6.2 1.8,8 2.3,10 C2.6,11.5 2.9,12.8 3.6,14 C4.6,15.3 5.2,17.5 5.5,20 C5.8,23 5.95,26.5 5.85,29.5 C5.7,31.4 4.9,32.6 3.5,33 L-3.5,33 C-4.9,32.6 -5.7,31.4 -5.85,29.5 C-5.95,26.5 -5.8,23 -5.5,20 C-5.2,17.5 -4.6,15.3 -3.6,14 C-2.9,12.8 -2.6,11.5 -2.3,10 C-1.8,8 -1,6.2 0,5.2 Z" fill="url(#mw)"/>
<ellipse cx="219.7" cy="426.75" rx="1.3" ry="1.7" fill="#9a9a9a" opacity="0.3"/><ellipse cx="224.1" cy="426.75" rx="1.3" ry="1.7" fill="#9a9a9a" opacity="0.3"/>
<ellipse cx="216.7" cy="445.35" rx="1.8" ry="1" fill="#d8d8d8"/><ellipse cx="227.1" cy="445.35" rx="1.8" ry="1" fill="#d8d8d8"/>
<ellipse cx="186.3" cy="426.3" rx="4.93" ry="2.9" fill="url(#gK)"/>
<ellipse cx="189.3" cy="427.3" rx="3.48" ry="3.77" fill="url(#gK)"/>
<ellipse cx="197.2" cy="426.3" rx="4.93" ry="2.9" fill="url(#gK)"/>
<ellipse cx="200.2" cy="427.3" rx="3.48" ry="3.77" fill="url(#gK)"/>
<ellipse cx="209.8" cy="426.3" rx="4.93" ry="2.9" fill="url(#gK)"/>
<ellipse cx="212.8" cy="427.3" rx="3.48" ry="3.77" fill="url(#gK)"/>
<ellipse cx="220.7" cy="426.3" rx="4.93" ry="2.9" fill="url(#gK)"/>
<ellipse cx="223.7" cy="427.3" rx="3.48" ry="3.77" fill="url(#gK)"/>
<ellipse cx="183.5" cy="440" rx="3.48" ry="3.48" fill="url(#gK)"/>
<ellipse cx="193" cy="440" rx="3.92" ry="3.92" fill="url(#gK)"/>
<ellipse cx="204.5" cy="440" rx="3.92" ry="3.92" fill="url(#gK)"/>
<ellipse cx="215.5" cy="440" rx="3.92" ry="3.92" fill="url(#gK)"/>
<ellipse cx="225" cy="440" rx="3.19" ry="3.19" fill="url(#gK)"/>
<rect x="238.8" y="411.75" width="57.8" height="38.8" fill="#121212" />
<rect x="239.6" y="412.55" width="56.2" height="37.2" fill="#2b2b2b" />
<rect x="266.4" y="413.75" width="8" height="35.8" fill="#323232" />
<line x1="245.8" y1="442.75" x2="245.8" y2="450.55" stroke="#a0a0a0" stroke-width="1.2"/>
<path transform="translate(245.8 411.75)" d="M0,5.2 C1,6.2 1.8,8 2.3,10 C2.6,11.5 2.9,12.8 3.6,14 C4.6,15.3 5.2,17.5 5.5,20 C5.8,23 5.95,26.5 5.85,29.5 C5.7,31.4 4.9,32.6 3.5,33 L-3.5,33 C-4.9,32.6 -5.7,31.4 -5.85,29.5 C-5.95,26.5 -5.8,23 -5.5,20 C-5.2,17.5 -4.6,15.3 -3.6,14 C-2.9,12.8 -2.6,11.5 -2.3,10 C-1.8,8 -1,6.2 0,5.2 Z" fill="url(#mw)"/>
<ellipse cx="243.6" cy="426.75" rx="1.3" ry="1.7" fill="#9a9a9a" opacity="0.3"/><ellipse cx="248" cy="426.75" rx="1.3" ry="1.7" fill="#9a9a9a" opacity="0.3"/>
<ellipse cx="240.6" cy="445.35" rx="1.8" ry="1" fill="#d8d8d8"/><ellipse cx="251" cy="445.35" rx="1.8" ry="1" fill="#d8d8d8"/>
<line x1="258.1" y1="442.75" x2="258.1" y2="450.55" stroke="#a0a0a0" stroke-width="1.2"/>
<path transform="translate(258.1 411.75)" d="M0,5.2 C1,6.2 1.8,8 2.3,10 C2.6,11.5 2.9,12.8 3.6,14 C4.6,15.3 5.2,17.5 5.5,20 C5.8,23 5.95,26.5 5.85,29.5 C5.7,31.4 4.9,32.6 3.5,33 L-3.5,33 C-4.9,32.6 -5.7,31.4 -5.85,29.5 C-5.95,26.5 -5.8,23 -5.5,20 C-5.2,17.5 -4.6,15.3 -3.6,14 C-2.9,12.8 -2.6,11.5 -2.3,10 C-1.8,8 -1,6.2 0,5.2 Z" fill="url(#mw)"/>
<ellipse cx="255.9" cy="426.75" rx="1.3" ry="1.7" fill="#9a9a9a" opacity="0.3"/><ellipse cx="260.3" cy="426.75" rx="1.3" ry="1.7" fill="#9a9a9a" opacity="0.3"/>
<ellipse cx="252.9" cy="445.35" rx="1.8" ry="1" fill="#d8d8d8"/><ellipse cx="263.3" cy="445.35" rx="1.8" ry="1" fill="#d8d8d8"/>
<line x1="282.6" y1="442.75" x2="282.6" y2="450.55" stroke="#a0a0a0" stroke-width="1.2"/>
<path transform="translate(282.6 411.75)" d="M0,5.2 C1,6.2 1.8,8 2.3,10 C2.6,11.5 2.9,12.8 3.6,14 C4.6,15.3 5.2,17.5 5.5,20 C5.8,23 5.95,26.5 5.85,29.5 C5.7,31.4 4.9,32.6 3.5,33 L-3.5,33 C-4.9,32.6 -5.7,31.4 -5.85,29.5 C-5.95,26.5 -5.8,23 -5.5,20 C-5.2,17.5 -4.6,15.3 -3.6,14 C-2.9,12.8 -2.6,11.5 -2.3,10 C-1.8,8 -1,6.2 0,5.2 Z" fill="url(#mw)"/>
<ellipse cx="280.4" cy="426.75" rx="1.3" ry="1.7" fill="#9a9a9a" opacity="0.3"/><ellipse cx="284.8" cy="426.75" rx="1.3" ry="1.7" fill="#9a9a9a" opacity="0.3"/>
<ellipse cx="277.4" cy="445.35" rx="1.8" ry="1" fill="#d8d8d8"/><ellipse cx="287.8" cy="445.35" rx="1.8" ry="1" fill="#d8d8d8"/>
<ellipse cx="250.9" cy="426.1" rx="2.32" ry="2.32" fill="url(#gK)"/>
<ellipse cx="261.6" cy="425.7" rx="2.03" ry="2.03" fill="url(#gK)"/>
<ellipse cx="242.5" cy="438.7" rx="2.03" ry="2.03" fill="url(#gK)"/>
<ellipse cx="252.5" cy="440.5" rx="3.48" ry="3.48" fill="url(#gK)"/>
<ellipse cx="255" cy="438" rx="3.04" ry="3.04" fill="url(#gK)"/>
<ellipse cx="264" cy="440" rx="3.33" ry="3.33" fill="url(#gK)"/>
<ellipse cx="278" cy="438.6" rx="3.04" ry="3.04" fill="url(#gK)"/>
<ellipse cx="287.5" cy="439.5" rx="3.04" ry="3.04" fill="url(#gK)"/>
<text x="17.4" y="487.1" font-size="8.4" textLength="26" lengthAdjust="spacingAndGlyphs" transform="rotate(-90 17.4 487.1)" style="stroke-width:0.1px">Week 2</text>
<rect x="21.8" y="454.7" width="54.8" height="38.8" fill="#121212" />
<rect x="22.6" y="455.5" width="53.2" height="37.2" fill="#2b2b2b" />
<rect x="50.1" y="456.7" width="8" height="35.8" fill="#323232" />
<line x1="30.4" y1="485.7" x2="30.4" y2="493.5" stroke="#a0a0a0" stroke-width="1.2"/>
<path transform="translate(30.4 454.7)" d="M0,5.2 C1,6.2 1.8,8 2.3,10 C2.6,11.5 2.9,12.8 3.6,14 C4.6,15.3 5.2,17.5 5.5,20 C5.8,23 5.95,26.5 5.85,29.5 C5.7,31.4 4.9,32.6 3.5,33 L-3.5,33 C-4.9,32.6 -5.7,31.4 -5.85,29.5 C-5.95,26.5 -5.8,23 -5.5,20 C-5.2,17.5 -4.6,15.3 -3.6,14 C-2.9,12.8 -2.6,11.5 -2.3,10 C-1.8,8 -1,6.2 0,5.2 Z" fill="url(#mw)"/>
<ellipse cx="28.2" cy="469.7" rx="1.3" ry="1.7" fill="#9a9a9a" opacity="0.3"/><ellipse cx="32.6" cy="469.7" rx="1.3" ry="1.7" fill="#9a9a9a" opacity="0.3"/>
<ellipse cx="25.2" cy="488.3" rx="1.8" ry="1" fill="#d8d8d8"/><ellipse cx="35.6" cy="488.3" rx="1.8" ry="1" fill="#d8d8d8"/>
<line x1="42.2" y1="485.7" x2="42.2" y2="493.5" stroke="#a0a0a0" stroke-width="1.2"/>
<path transform="translate(42.2 454.7)" d="M0,5.2 C1,6.2 1.8,8 2.3,10 C2.6,11.5 2.9,12.8 3.6,14 C4.6,15.3 5.2,17.5 5.5,20 C5.8,23 5.95,26.5 5.85,29.5 C5.7,31.4 4.9,32.6 3.5,33 L-3.5,33 C-4.9,32.6 -5.7,31.4 -5.85,29.5 C-5.95,26.5 -5.8,23 -5.5,20 C-5.2,17.5 -4.6,15.3 -3.6,14 C-2.9,12.8 -2.6,11.5 -2.3,10 C-1.8,8 -1,6.2 0,5.2 Z" fill="url(#mw)"/>
<ellipse cx="40" cy="469.7" rx="1.3" ry="1.7" fill="#9a9a9a" opacity="0.3"/><ellipse cx="44.4" cy="469.7" rx="1.3" ry="1.7" fill="#9a9a9a" opacity="0.3"/>
<ellipse cx="37" cy="488.3" rx="1.8" ry="1" fill="#d8d8d8"/><ellipse cx="47.4" cy="488.3" rx="1.8" ry="1" fill="#d8d8d8"/>
<line x1="66.2" y1="485.7" x2="66.2" y2="493.5" stroke="#a0a0a0" stroke-width="1.2"/>
<path transform="translate(66.2 454.7)" d="M0,5.2 C1,6.2 1.8,8 2.3,10 C2.6,11.5 2.9,12.8 3.6,14 C4.6,15.3 5.2,17.5 5.5,20 C5.8,23 5.95,26.5 5.85,29.5 C5.7,31.4 4.9,32.6 3.5,33 L-3.5,33 C-4.9,32.6 -5.7,31.4 -5.85,29.5 C-5.95,26.5 -5.8,23 -5.5,20 C-5.2,17.5 -4.6,15.3 -3.6,14 C-2.9,12.8 -2.6,11.5 -2.3,10 C-1.8,8 -1,6.2 0,5.2 Z" fill="url(#mw)"/>
<ellipse cx="64" cy="469.7" rx="1.3" ry="1.7" fill="#9a9a9a" opacity="0.3"/><ellipse cx="68.4" cy="469.7" rx="1.3" ry="1.7" fill="#9a9a9a" opacity="0.3"/>
<ellipse cx="61" cy="488.3" rx="1.8" ry="1" fill="#d8d8d8"/><ellipse cx="71.4" cy="488.3" rx="1.8" ry="1" fill="#d8d8d8"/>
<rect x="80.5" y="454.7" width="56.1" height="38.8" fill="#121212" />
<rect x="81.3" y="455.5" width="54.5" height="37.2" fill="#2b2b2b" />
<line x1="88.8" y1="485.7" x2="88.8" y2="493.5" stroke="#a0a0a0" stroke-width="1.2"/>
<path transform="translate(88.8 454.7)" d="M0,5.2 C1,6.2 1.8,8 2.3,10 C2.6,11.5 2.9,12.8 3.6,14 C4.6,15.3 5.2,17.5 5.5,20 C5.8,23 5.95,26.5 5.85,29.5 C5.7,31.4 4.9,32.6 3.5,33 L-3.5,33 C-4.9,32.6 -5.7,31.4 -5.85,29.5 C-5.95,26.5 -5.8,23 -5.5,20 C-5.2,17.5 -4.6,15.3 -3.6,14 C-2.9,12.8 -2.6,11.5 -2.3,10 C-1.8,8 -1,6.2 0,5.2 Z" fill="url(#mw)"/>
<ellipse cx="86.6" cy="469.7" rx="1.3" ry="1.7" fill="#9a9a9a" opacity="0.3"/><ellipse cx="91" cy="469.7" rx="1.3" ry="1.7" fill="#9a9a9a" opacity="0.3"/>
<ellipse cx="83.6" cy="488.3" rx="1.8" ry="1" fill="#d8d8d8"/><ellipse cx="94" cy="488.3" rx="1.8" ry="1" fill="#d8d8d8"/>
<line x1="100.9" y1="485.7" x2="100.9" y2="493.5" stroke="#a0a0a0" stroke-width="1.2"/>
<path transform="translate(100.9 454.7)" d="M0,5.2 C1,6.2 1.8,8 2.3,10 C2.6,11.5 2.9,12.8 3.6,14 C4.6,15.3 5.2,17.5 5.5,20 C5.8,23 5.95,26.5 5.85,29.5 C5.7,31.4 4.9,32.6 3.5,33 L-3.5,33 C-4.9,32.6 -5.7,31.4 -5.85,29.5 C-5.95,26.5 -5.8,23 -5.5,20 C-5.2,17.5 -4.6,15.3 -3.6,14 C-2.9,12.8 -2.6,11.5 -2.3,10 C-1.8,8 -1,6.2 0,5.2 Z" fill="url(#mw)"/>
<ellipse cx="98.7" cy="469.7" rx="1.3" ry="1.7" fill="#9a9a9a" opacity="0.3"/><ellipse cx="103.1" cy="469.7" rx="1.3" ry="1.7" fill="#9a9a9a" opacity="0.3"/>
<ellipse cx="95.7" cy="488.3" rx="1.8" ry="1" fill="#d8d8d8"/><ellipse cx="106.1" cy="488.3" rx="1.8" ry="1" fill="#d8d8d8"/>
<line x1="113.2" y1="485.7" x2="113.2" y2="493.5" stroke="#a0a0a0" stroke-width="1.2"/>
<path transform="translate(113.2 454.7)" d="M0,5.2 C1,6.2 1.8,8 2.3,10 C2.6,11.5 2.9,12.8 3.6,14 C4.6,15.3 5.2,17.5 5.5,20 C5.8,23 5.95,26.5 5.85,29.5 C5.7,31.4 4.9,32.6 3.5,33 L-3.5,33 C-4.9,32.6 -5.7,31.4 -5.85,29.5 C-5.95,26.5 -5.8,23 -5.5,20 C-5.2,17.5 -4.6,15.3 -3.6,14 C-2.9,12.8 -2.6,11.5 -2.3,10 C-1.8,8 -1,6.2 0,5.2 Z" fill="url(#mw)"/>
<ellipse cx="111" cy="469.7" rx="1.3" ry="1.7" fill="#9a9a9a" opacity="0.3"/><ellipse cx="115.4" cy="469.7" rx="1.3" ry="1.7" fill="#9a9a9a" opacity="0.3"/>
<ellipse cx="108" cy="488.3" rx="1.8" ry="1" fill="#d8d8d8"/><ellipse cx="118.4" cy="488.3" rx="1.8" ry="1" fill="#d8d8d8"/>
<line x1="125.2" y1="485.7" x2="125.2" y2="493.5" stroke="#a0a0a0" stroke-width="1.2"/>
<path transform="translate(125.2 454.7)" d="M0,5.2 C1,6.2 1.8,8 2.3,10 C2.6,11.5 2.9,12.8 3.6,14 C4.6,15.3 5.2,17.5 5.5,20 C5.8,23 5.95,26.5 5.85,29.5 C5.7,31.4 4.9,32.6 3.5,33 L-3.5,33 C-4.9,32.6 -5.7,31.4 -5.85,29.5 C-5.95,26.5 -5.8,23 -5.5,20 C-5.2,17.5 -4.6,15.3 -3.6,14 C-2.9,12.8 -2.6,11.5 -2.3,10 C-1.8,8 -1,6.2 0,5.2 Z" fill="url(#mw)"/>
<ellipse cx="123" cy="469.7" rx="1.3" ry="1.7" fill="#9a9a9a" opacity="0.3"/><ellipse cx="127.4" cy="469.7" rx="1.3" ry="1.7" fill="#9a9a9a" opacity="0.3"/>
<ellipse cx="120" cy="488.3" rx="1.8" ry="1" fill="#d8d8d8"/><ellipse cx="130.4" cy="488.3" rx="1.8" ry="1" fill="#d8d8d8"/>
<rect x="142.5" y="454.7" width="32.3" height="38.8" fill="#121212" />
<rect x="143.3" y="455.5" width="30.7" height="37.2" fill="#2b2b2b" />
<line x1="150.4" y1="485.7" x2="150.4" y2="493.5" stroke="#a0a0a0" stroke-width="1.2"/>
<path transform="translate(150.4 454.7)" d="M0,5.2 C1,6.2 1.8,8 2.3,10 C2.6,11.5 2.9,12.8 3.6,14 C4.6,15.3 5.2,17.5 5.5,20 C5.8,23 5.95,26.5 5.85,29.5 C5.7,31.4 4.9,32.6 3.5,33 L-3.5,33 C-4.9,32.6 -5.7,31.4 -5.85,29.5 C-5.95,26.5 -5.8,23 -5.5,20 C-5.2,17.5 -4.6,15.3 -3.6,14 C-2.9,12.8 -2.6,11.5 -2.3,10 C-1.8,8 -1,6.2 0,5.2 Z" fill="url(#mw)"/>
<ellipse cx="148.2" cy="469.7" rx="1.3" ry="1.7" fill="#9a9a9a" opacity="0.3"/><ellipse cx="152.6" cy="469.7" rx="1.3" ry="1.7" fill="#9a9a9a" opacity="0.3"/>
<ellipse cx="145.2" cy="488.3" rx="1.8" ry="1" fill="#d8d8d8"/><ellipse cx="155.6" cy="488.3" rx="1.8" ry="1" fill="#d8d8d8"/>
<line x1="162.6" y1="485.7" x2="162.6" y2="493.5" stroke="#a0a0a0" stroke-width="1.2"/>
<path transform="translate(162.6 454.7)" d="M0,5.2 C1,6.2 1.8,8 2.3,10 C2.6,11.5 2.9,12.8 3.6,14 C4.6,15.3 5.2,17.5 5.5,20 C5.8,23 5.95,26.5 5.85,29.5 C5.7,31.4 4.9,32.6 3.5,33 L-3.5,33 C-4.9,32.6 -5.7,31.4 -5.85,29.5 C-5.95,26.5 -5.8,23 -5.5,20 C-5.2,17.5 -4.6,15.3 -3.6,14 C-2.9,12.8 -2.6,11.5 -2.3,10 C-1.8,8 -1,6.2 0,5.2 Z" fill="url(#mw)"/>
<ellipse cx="160.4" cy="469.7" rx="1.3" ry="1.7" fill="#9a9a9a" opacity="0.3"/><ellipse cx="164.8" cy="469.7" rx="1.3" ry="1.7" fill="#9a9a9a" opacity="0.3"/>
<ellipse cx="157.4" cy="488.3" rx="1.8" ry="1" fill="#d8d8d8"/><ellipse cx="167.8" cy="488.3" rx="1.8" ry="1" fill="#d8d8d8"/>
<ellipse cx="150" cy="469.2" rx="4.75" ry="4.12" fill="url(#gK)"/>
<ellipse cx="146" cy="483.5" rx="4.6" ry="4.6" fill="url(#gD)"/>
<ellipse cx="155" cy="483.5" rx="4.6" ry="4.6" fill="url(#gD)"/>
<ellipse cx="160" cy="470" rx="1.5" ry="1.5" fill="url(#gK)"/>
<ellipse cx="164.5" cy="468.5" rx="1.5" ry="1.5" fill="url(#gK)"/>
<ellipse cx="167" cy="483" rx="3.75" ry="4.5" fill="url(#gK)"/>
<rect x="178.8" y="454.7" width="53.6" height="38.8" fill="#121212" />
<rect x="179.6" y="455.5" width="52" height="37.2" fill="#2b2b2b" />
<line x1="185.9" y1="485.7" x2="185.9" y2="493.5" stroke="#a0a0a0" stroke-width="1.2"/>
<path transform="translate(185.9 454.7)" d="M0,5.2 C1,6.2 1.8,8 2.3,10 C2.6,11.5 2.9,12.8 3.6,14 C4.6,15.3 5.2,17.5 5.5,20 C5.8,23 5.95,26.5 5.85,29.5 C5.7,31.4 4.9,32.6 3.5,33 L-3.5,33 C-4.9,32.6 -5.7,31.4 -5.85,29.5 C-5.95,26.5 -5.8,23 -5.5,20 C-5.2,17.5 -4.6,15.3 -3.6,14 C-2.9,12.8 -2.6,11.5 -2.3,10 C-1.8,8 -1,6.2 0,5.2 Z" fill="url(#mw)"/>
<ellipse cx="183.7" cy="469.7" rx="1.3" ry="1.7" fill="#9a9a9a" opacity="0.3"/><ellipse cx="188.1" cy="469.7" rx="1.3" ry="1.7" fill="#9a9a9a" opacity="0.3"/>
<ellipse cx="180.7" cy="488.3" rx="1.8" ry="1" fill="#d8d8d8"/><ellipse cx="191.1" cy="488.3" rx="1.8" ry="1" fill="#d8d8d8"/>
<line x1="198" y1="485.7" x2="198" y2="493.5" stroke="#a0a0a0" stroke-width="1.2"/>
<path transform="translate(198 454.7)" d="M0,5.2 C1,6.2 1.8,8 2.3,10 C2.6,11.5 2.9,12.8 3.6,14 C4.6,15.3 5.2,17.5 5.5,20 C5.8,23 5.95,26.5 5.85,29.5 C5.7,31.4 4.9,32.6 3.5,33 L-3.5,33 C-4.9,32.6 -5.7,31.4 -5.85,29.5 C-5.95,26.5 -5.8,23 -5.5,20 C-5.2,17.5 -4.6,15.3 -3.6,14 C-2.9,12.8 -2.6,11.5 -2.3,10 C-1.8,8 -1,6.2 0,5.2 Z" fill="url(#mw)"/>
<ellipse cx="195.8" cy="469.7" rx="1.3" ry="1.7" fill="#9a9a9a" opacity="0.3"/><ellipse cx="200.2" cy="469.7" rx="1.3" ry="1.7" fill="#9a9a9a" opacity="0.3"/>
<ellipse cx="192.8" cy="488.3" rx="1.8" ry="1" fill="#d8d8d8"/><ellipse cx="203.2" cy="488.3" rx="1.8" ry="1" fill="#d8d8d8"/>
<line x1="210.1" y1="485.7" x2="210.1" y2="493.5" stroke="#a0a0a0" stroke-width="1.2"/>
<path transform="translate(210.1 454.7)" d="M0,5.2 C1,6.2 1.8,8 2.3,10 C2.6,11.5 2.9,12.8 3.6,14 C4.6,15.3 5.2,17.5 5.5,20 C5.8,23 5.95,26.5 5.85,29.5 C5.7,31.4 4.9,32.6 3.5,33 L-3.5,33 C-4.9,32.6 -5.7,31.4 -5.85,29.5 C-5.95,26.5 -5.8,23 -5.5,20 C-5.2,17.5 -4.6,15.3 -3.6,14 C-2.9,12.8 -2.6,11.5 -2.3,10 C-1.8,8 -1,6.2 0,5.2 Z" fill="url(#mw)"/>
<ellipse cx="207.9" cy="469.7" rx="1.3" ry="1.7" fill="#9a9a9a" opacity="0.3"/><ellipse cx="212.3" cy="469.7" rx="1.3" ry="1.7" fill="#9a9a9a" opacity="0.3"/>
<ellipse cx="204.9" cy="488.3" rx="1.8" ry="1" fill="#d8d8d8"/><ellipse cx="215.3" cy="488.3" rx="1.8" ry="1" fill="#d8d8d8"/>
<line x1="221.9" y1="485.7" x2="221.9" y2="493.5" stroke="#a0a0a0" stroke-width="1.2"/>
<path transform="translate(221.9 454.7)" d="M0,5.2 C1,6.2 1.8,8 2.3,10 C2.6,11.5 2.9,12.8 3.6,14 C4.6,15.3 5.2,17.5 5.5,20 C5.8,23 5.95,26.5 5.85,29.5 C5.7,31.4 4.9,32.6 3.5,33 L-3.5,33 C-4.9,32.6 -5.7,31.4 -5.85,29.5 C-5.95,26.5 -5.8,23 -5.5,20 C-5.2,17.5 -4.6,15.3 -3.6,14 C-2.9,12.8 -2.6,11.5 -2.3,10 C-1.8,8 -1,6.2 0,5.2 Z" fill="url(#mw)"/>
<ellipse cx="219.7" cy="469.7" rx="1.3" ry="1.7" fill="#9a9a9a" opacity="0.3"/><ellipse cx="224.1" cy="469.7" rx="1.3" ry="1.7" fill="#9a9a9a" opacity="0.3"/>
<ellipse cx="216.7" cy="488.3" rx="1.8" ry="1" fill="#d8d8d8"/><ellipse cx="227.1" cy="488.3" rx="1.8" ry="1" fill="#d8d8d8"/>
<ellipse cx="186.2" cy="469.2" rx="5.25" ry="4.5" fill="url(#gK)"/>
<ellipse cx="197.4" cy="469.2" rx="5.25" ry="4.5" fill="url(#gK)"/>
<ellipse cx="209.5" cy="469.2" rx="5.25" ry="4.5" fill="url(#gK)"/>
<ellipse cx="220.7" cy="469.2" rx="5.25" ry="4.5" fill="url(#gK)"/>
<ellipse cx="182" cy="482.5" rx="5" ry="5.8" fill="url(#gD)"/>
<ellipse cx="187.5" cy="482.5" rx="5" ry="5.8" fill="url(#gD)"/>
<ellipse cx="193" cy="482.5" rx="5" ry="5.8" fill="url(#gD)"/>
<ellipse cx="198.5" cy="482.5" rx="5" ry="5.8" fill="url(#gD)"/>
<ellipse cx="204" cy="482.5" rx="5" ry="5.8" fill="url(#gD)"/>
<ellipse cx="209.5" cy="482.5" rx="5" ry="5.8" fill="url(#gD)"/>
<ellipse cx="215" cy="482.5" rx="5" ry="5.8" fill="url(#gD)"/>
<ellipse cx="220.5" cy="482.5" rx="5" ry="5.8" fill="url(#gD)"/>
<ellipse cx="226.5" cy="482.5" rx="5" ry="5.8" fill="url(#gD)"/>
<rect x="238.8" y="454.7" width="57.8" height="38.8" fill="#121212" />
<rect x="239.6" y="455.5" width="56.2" height="37.2" fill="#2b2b2b" />
<rect x="266.4" y="456.7" width="8" height="35.8" fill="#323232" />
<line x1="245.8" y1="485.7" x2="245.8" y2="493.5" stroke="#a0a0a0" stroke-width="1.2"/>
<path transform="translate(245.8 454.7)" d="M0,5.2 C1,6.2 1.8,8 2.3,10 C2.6,11.5 2.9,12.8 3.6,14 C4.6,15.3 5.2,17.5 5.5,20 C5.8,23 5.95,26.5 5.85,29.5 C5.7,31.4 4.9,32.6 3.5,33 L-3.5,33 C-4.9,32.6 -5.7,31.4 -5.85,29.5 C-5.95,26.5 -5.8,23 -5.5,20 C-5.2,17.5 -4.6,15.3 -3.6,14 C-2.9,12.8 -2.6,11.5 -2.3,10 C-1.8,8 -1,6.2 0,5.2 Z" fill="url(#mw)"/>
<ellipse cx="243.6" cy="469.7" rx="1.3" ry="1.7" fill="#9a9a9a" opacity="0.3"/><ellipse cx="248" cy="469.7" rx="1.3" ry="1.7" fill="#9a9a9a" opacity="0.3"/>
<ellipse cx="240.6" cy="488.3" rx="1.8" ry="1" fill="#d8d8d8"/><ellipse cx="251" cy="488.3" rx="1.8" ry="1" fill="#d8d8d8"/>
<line x1="258.1" y1="485.7" x2="258.1" y2="493.5" stroke="#a0a0a0" stroke-width="1.2"/>
<path transform="translate(258.1 454.7)" d="M0,5.2 C1,6.2 1.8,8 2.3,10 C2.6,11.5 2.9,12.8 3.6,14 C4.6,15.3 5.2,17.5 5.5,20 C5.8,23 5.95,26.5 5.85,29.5 C5.7,31.4 4.9,32.6 3.5,33 L-3.5,33 C-4.9,32.6 -5.7,31.4 -5.85,29.5 C-5.95,26.5 -5.8,23 -5.5,20 C-5.2,17.5 -4.6,15.3 -3.6,14 C-2.9,12.8 -2.6,11.5 -2.3,10 C-1.8,8 -1,6.2 0,5.2 Z" fill="url(#mw)"/>
<ellipse cx="255.9" cy="469.7" rx="1.3" ry="1.7" fill="#9a9a9a" opacity="0.3"/><ellipse cx="260.3" cy="469.7" rx="1.3" ry="1.7" fill="#9a9a9a" opacity="0.3"/>
<ellipse cx="252.9" cy="488.3" rx="1.8" ry="1" fill="#d8d8d8"/><ellipse cx="263.3" cy="488.3" rx="1.8" ry="1" fill="#d8d8d8"/>
<line x1="282.6" y1="485.7" x2="282.6" y2="493.5" stroke="#a0a0a0" stroke-width="1.2"/>
<path transform="translate(282.6 454.7)" d="M0,5.2 C1,6.2 1.8,8 2.3,10 C2.6,11.5 2.9,12.8 3.6,14 C4.6,15.3 5.2,17.5 5.5,20 C5.8,23 5.95,26.5 5.85,29.5 C5.7,31.4 4.9,32.6 3.5,33 L-3.5,33 C-4.9,32.6 -5.7,31.4 -5.85,29.5 C-5.95,26.5 -5.8,23 -5.5,20 C-5.2,17.5 -4.6,15.3 -3.6,14 C-2.9,12.8 -2.6,11.5 -2.3,10 C-1.8,8 -1,6.2 0,5.2 Z" fill="url(#mw)"/>
<ellipse cx="280.4" cy="469.7" rx="1.3" ry="1.7" fill="#9a9a9a" opacity="0.3"/><ellipse cx="284.8" cy="469.7" rx="1.3" ry="1.7" fill="#9a9a9a" opacity="0.3"/>
<ellipse cx="277.4" cy="488.3" rx="1.8" ry="1" fill="#d8d8d8"/><ellipse cx="287.8" cy="488.3" rx="1.8" ry="1" fill="#d8d8d8"/>
<ellipse cx="247.7" cy="469" rx="4.75" ry="4" fill="url(#gK)"/>
<ellipse cx="260" cy="469" rx="4.75" ry="4" fill="url(#gK)"/>
<ellipse cx="280.8" cy="469" rx="1.88" ry="1.88" fill="url(#gK)"/>
<ellipse cx="285.5" cy="469" rx="1.88" ry="1.88" fill="url(#gK)"/>
<ellipse cx="247.5" cy="482" rx="7" ry="6" fill="url(#gD)"/>
<ellipse cx="262" cy="482" rx="7" ry="6" fill="url(#gD)"/>
<ellipse cx="283.5" cy="482" rx="7.5" ry="6" fill="url(#gD)"/>
<ellipse cx="252.5" cy="481.8" rx="3" ry="3" fill="url(#gB)"/>
<ellipse cx="243" cy="481.5" rx="2.8" ry="2.8" fill="url(#gP)"/>
<ellipse cx="260" cy="482" rx="2.6" ry="2.6" fill="url(#gP)"/>
<ellipse cx="264.5" cy="481.5" rx="2.6" ry="2.6" fill="url(#gP)"/>
<ellipse cx="279" cy="482" rx="3.2" ry="3.2" fill="url(#gP)"/>
<ellipse cx="288" cy="481.8" rx="3" ry="3" fill="url(#gP)"/>
<text x="17.4" y="530.05" font-size="8.4" textLength="26" lengthAdjust="spacingAndGlyphs" transform="rotate(-90 17.4 530.05)" style="stroke-width:0.1px">Week 3</text>
<rect x="21.8" y="497.65" width="54.8" height="38.8" fill="#121212" />
<rect x="22.6" y="498.45" width="53.2" height="37.2" fill="#2b2b2b" />
<rect x="50.1" y="499.65" width="8" height="35.8" fill="#323232" />
<line x1="30.4" y1="528.65" x2="30.4" y2="536.45" stroke="#a0a0a0" stroke-width="1.2"/>
<path transform="translate(30.4 497.65)" d="M0,5.2 C1,6.2 1.8,8 2.3,10 C2.6,11.5 2.9,12.8 3.6,14 C4.6,15.3 5.2,17.5 5.5,20 C5.8,23 5.95,26.5 5.85,29.5 C5.7,31.4 4.9,32.6 3.5,33 L-3.5,33 C-4.9,32.6 -5.7,31.4 -5.85,29.5 C-5.95,26.5 -5.8,23 -5.5,20 C-5.2,17.5 -4.6,15.3 -3.6,14 C-2.9,12.8 -2.6,11.5 -2.3,10 C-1.8,8 -1,6.2 0,5.2 Z" fill="url(#mw)"/>
<ellipse cx="28.2" cy="512.65" rx="1.3" ry="1.7" fill="#9a9a9a" opacity="0.3"/><ellipse cx="32.6" cy="512.65" rx="1.3" ry="1.7" fill="#9a9a9a" opacity="0.3"/>
<ellipse cx="25.2" cy="531.25" rx="1.8" ry="1" fill="#d8d8d8"/><ellipse cx="35.6" cy="531.25" rx="1.8" ry="1" fill="#d8d8d8"/>
<line x1="42.2" y1="528.65" x2="42.2" y2="536.45" stroke="#a0a0a0" stroke-width="1.2"/>
<path transform="translate(42.2 497.65)" d="M0,5.2 C1,6.2 1.8,8 2.3,10 C2.6,11.5 2.9,12.8 3.6,14 C4.6,15.3 5.2,17.5 5.5,20 C5.8,23 5.95,26.5 5.85,29.5 C5.7,31.4 4.9,32.6 3.5,33 L-3.5,33 C-4.9,32.6 -5.7,31.4 -5.85,29.5 C-5.95,26.5 -5.8,23 -5.5,20 C-5.2,17.5 -4.6,15.3 -3.6,14 C-2.9,12.8 -2.6,11.5 -2.3,10 C-1.8,8 -1,6.2 0,5.2 Z" fill="url(#mw)"/>
<ellipse cx="40" cy="512.65" rx="1.3" ry="1.7" fill="#9a9a9a" opacity="0.3"/><ellipse cx="44.4" cy="512.65" rx="1.3" ry="1.7" fill="#9a9a9a" opacity="0.3"/>
<ellipse cx="37" cy="531.25" rx="1.8" ry="1" fill="#d8d8d8"/><ellipse cx="47.4" cy="531.25" rx="1.8" ry="1" fill="#d8d8d8"/>
<line x1="66.2" y1="528.65" x2="66.2" y2="536.45" stroke="#a0a0a0" stroke-width="1.2"/>
<path transform="translate(66.2 497.65)" d="M0,5.2 C1,6.2 1.8,8 2.3,10 C2.6,11.5 2.9,12.8 3.6,14 C4.6,15.3 5.2,17.5 5.5,20 C5.8,23 5.95,26.5 5.85,29.5 C5.7,31.4 4.9,32.6 3.5,33 L-3.5,33 C-4.9,32.6 -5.7,31.4 -5.85,29.5 C-5.95,26.5 -5.8,23 -5.5,20 C-5.2,17.5 -4.6,15.3 -3.6,14 C-2.9,12.8 -2.6,11.5 -2.3,10 C-1.8,8 -1,6.2 0,5.2 Z" fill="url(#mw)"/>
<ellipse cx="64" cy="512.65" rx="1.3" ry="1.7" fill="#9a9a9a" opacity="0.3"/><ellipse cx="68.4" cy="512.65" rx="1.3" ry="1.7" fill="#9a9a9a" opacity="0.3"/>
<ellipse cx="61" cy="531.25" rx="1.8" ry="1" fill="#d8d8d8"/><ellipse cx="71.4" cy="531.25" rx="1.8" ry="1" fill="#d8d8d8"/>
<ellipse cx="46.2" cy="525.1" rx="3.12" ry="3.12" fill="url(#gK)"/>
<ellipse cx="69.6" cy="525" rx="2.5" ry="2.5" fill="url(#gK)"/>
<rect x="80.5" y="497.65" width="56.1" height="38.8" fill="#121212" />
<rect x="81.3" y="498.45" width="54.5" height="37.2" fill="#2b2b2b" />
<line x1="88.8" y1="528.65" x2="88.8" y2="536.45" stroke="#a0a0a0" stroke-width="1.2"/>
<path transform="translate(88.8 497.65)" d="M0,5.2 C1,6.2 1.8,8 2.3,10 C2.6,11.5 2.9,12.8 3.6,14 C4.6,15.3 5.2,17.5 5.5,20 C5.8,23 5.95,26.5 5.85,29.5 C5.7,31.4 4.9,32.6 3.5,33 L-3.5,33 C-4.9,32.6 -5.7,31.4 -5.85,29.5 C-5.95,26.5 -5.8,23 -5.5,20 C-5.2,17.5 -4.6,15.3 -3.6,14 C-2.9,12.8 -2.6,11.5 -2.3,10 C-1.8,8 -1,6.2 0,5.2 Z" fill="url(#mw)"/>
<ellipse cx="86.6" cy="512.65" rx="1.3" ry="1.7" fill="#9a9a9a" opacity="0.3"/><ellipse cx="91" cy="512.65" rx="1.3" ry="1.7" fill="#9a9a9a" opacity="0.3"/>
<ellipse cx="83.6" cy="531.25" rx="1.8" ry="1" fill="#d8d8d8"/><ellipse cx="94" cy="531.25" rx="1.8" ry="1" fill="#d8d8d8"/>
<line x1="100.9" y1="528.65" x2="100.9" y2="536.45" stroke="#a0a0a0" stroke-width="1.2"/>
<path transform="translate(100.9 497.65)" d="M0,5.2 C1,6.2 1.8,8 2.3,10 C2.6,11.5 2.9,12.8 3.6,14 C4.6,15.3 5.2,17.5 5.5,20 C5.8,23 5.95,26.5 5.85,29.5 C5.7,31.4 4.9,32.6 3.5,33 L-3.5,33 C-4.9,32.6 -5.7,31.4 -5.85,29.5 C-5.95,26.5 -5.8,23 -5.5,20 C-5.2,17.5 -4.6,15.3 -3.6,14 C-2.9,12.8 -2.6,11.5 -2.3,10 C-1.8,8 -1,6.2 0,5.2 Z" fill="url(#mw)"/>
<ellipse cx="98.7" cy="512.65" rx="1.3" ry="1.7" fill="#9a9a9a" opacity="0.3"/><ellipse cx="103.1" cy="512.65" rx="1.3" ry="1.7" fill="#9a9a9a" opacity="0.3"/>
<ellipse cx="95.7" cy="531.25" rx="1.8" ry="1" fill="#d8d8d8"/><ellipse cx="106.1" cy="531.25" rx="1.8" ry="1" fill="#d8d8d8"/>
<line x1="113.2" y1="528.65" x2="113.2" y2="536.45" stroke="#a0a0a0" stroke-width="1.2"/>
<path transform="translate(113.2 497.65)" d="M0,5.2 C1,6.2 1.8,8 2.3,10 C2.6,11.5 2.9,12.8 3.6,14 C4.6,15.3 5.2,17.5 5.5,20 C5.8,23 5.95,26.5 5.85,29.5 C5.7,31.4 4.9,32.6 3.5,33 L-3.5,33 C-4.9,32.6 -5.7,31.4 -5.85,29.5 C-5.95,26.5 -5.8,23 -5.5,20 C-5.2,17.5 -4.6,15.3 -3.6,14 C-2.9,12.8 -2.6,11.5 -2.3,10 C-1.8,8 -1,6.2 0,5.2 Z" fill="url(#mw)"/>
<ellipse cx="111" cy="512.65" rx="1.3" ry="1.7" fill="#9a9a9a" opacity="0.3"/><ellipse cx="115.4" cy="512.65" rx="1.3" ry="1.7" fill="#9a9a9a" opacity="0.3"/>
<ellipse cx="108" cy="531.25" rx="1.8" ry="1" fill="#d8d8d8"/><ellipse cx="118.4" cy="531.25" rx="1.8" ry="1" fill="#d8d8d8"/>
<line x1="125.2" y1="528.65" x2="125.2" y2="536.45" stroke="#a0a0a0" stroke-width="1.2"/>
<path transform="translate(125.2 497.65)" d="M0,5.2 C1,6.2 1.8,8 2.3,10 C2.6,11.5 2.9,12.8 3.6,14 C4.6,15.3 5.2,17.5 5.5,20 C5.8,23 5.95,26.5 5.85,29.5 C5.7,31.4 4.9,32.6 3.5,33 L-3.5,33 C-4.9,32.6 -5.7,31.4 -5.85,29.5 C-5.95,26.5 -5.8,23 -5.5,20 C-5.2,17.5 -4.6,15.3 -3.6,14 C-2.9,12.8 -2.6,11.5 -2.3,10 C-1.8,8 -1,6.2 0,5.2 Z" fill="url(#mw)"/>
<ellipse cx="123" cy="512.65" rx="1.3" ry="1.7" fill="#9a9a9a" opacity="0.3"/><ellipse cx="127.4" cy="512.65" rx="1.3" ry="1.7" fill="#9a9a9a" opacity="0.3"/>
<ellipse cx="120" cy="531.25" rx="1.8" ry="1" fill="#d8d8d8"/><ellipse cx="130.4" cy="531.25" rx="1.8" ry="1" fill="#d8d8d8"/>
<ellipse cx="93" cy="512.3" rx="3.12" ry="3.12" fill="url(#gK)"/>
<ellipse cx="84.9" cy="524.4" rx="3.12" ry="3.12" fill="url(#gK)"/>
<ellipse cx="93.6" cy="525" rx="2.75" ry="2.75" fill="url(#gK)"/>
<ellipse cx="97.6" cy="510.5" rx="1.62" ry="1.62" fill="url(#gK)"/>
<ellipse cx="116" cy="510" rx="2.75" ry="2.75" fill="url(#gK)"/>
<ellipse cx="109.1" cy="522.5" rx="1.75" ry="1.75" fill="url(#gK)"/>
<ellipse cx="117.2" cy="525" rx="3.38" ry="3.38" fill="url(#gK)"/>
<ellipse cx="121.3" cy="524.5" rx="2.75" ry="2.75" fill="url(#gK)"/>
<rect x="142.5" y="497.65" width="32.3" height="38.8" fill="#121212" />
<rect x="143.3" y="498.45" width="30.7" height="37.2" fill="#242424" />
<line x1="150.4" y1="528.65" x2="150.4" y2="536.45" stroke="#a0a0a0" stroke-width="1.2"/>
<path transform="translate(150.4 497.65)" d="M0,5.2 C1,6.2 1.8,8 2.3,10 C2.6,11.5 2.9,12.8 3.6,14 C4.6,15.3 5.2,17.5 5.5,20 C5.8,23 5.95,26.5 5.85,29.5 C5.7,31.4 4.9,32.6 3.5,33 L-3.5,33 C-4.9,32.6 -5.7,31.4 -5.85,29.5 C-5.95,26.5 -5.8,23 -5.5,20 C-5.2,17.5 -4.6,15.3 -3.6,14 C-2.9,12.8 -2.6,11.5 -2.3,10 C-1.8,8 -1,6.2 0,5.2 Z" fill="url(#mdk)"/>
<line x1="162.6" y1="528.65" x2="162.6" y2="536.45" stroke="#a0a0a0" stroke-width="1.2"/>
<path transform="translate(162.6 497.65)" d="M0,5.2 C1,6.2 1.8,8 2.3,10 C2.6,11.5 2.9,12.8 3.6,14 C4.6,15.3 5.2,17.5 5.5,20 C5.8,23 5.95,26.5 5.85,29.5 C5.7,31.4 4.9,32.6 3.5,33 L-3.5,33 C-4.9,32.6 -5.7,31.4 -5.85,29.5 C-5.95,26.5 -5.8,23 -5.5,20 C-5.2,17.5 -4.6,15.3 -3.6,14 C-2.9,12.8 -2.6,11.5 -2.3,10 C-1.8,8 -1,6.2 0,5.2 Z" fill="url(#mdk)"/>
<ellipse cx="151.7" cy="511.5" rx="5.8" ry="9" fill="url(#gP)"/>
<ellipse cx="163.4" cy="512" rx="5.4" ry="8" fill="url(#gP)"/>
<ellipse cx="151.7" cy="527" rx="6.5" ry="6" fill="url(#gD)"/>
<ellipse cx="163.4" cy="527" rx="6" ry="6" fill="url(#gD)"/>
<ellipse cx="151" cy="520.8" rx="4.6" ry="1.7" fill="url(#gW)"/>
<ellipse cx="162" cy="520.3" rx="4.4" ry="1.8" fill="url(#gW)"/>
<ellipse cx="147.7" cy="525.7" rx="4.2" ry="4.2" fill="url(#hY)"/>
<ellipse cx="156.8" cy="525.7" rx="4.4" ry="4.4" fill="url(#hR)"/>
<ellipse cx="168.9" cy="525.7" rx="3.8" ry="3.8" fill="url(#hY)"/>
<rect x="178.8" y="497.65" width="53.6" height="38.8" fill="#121212" />
<rect x="179.6" y="498.45" width="52" height="37.2" fill="#242424" />
<line x1="185.9" y1="528.65" x2="185.9" y2="536.45" stroke="#a0a0a0" stroke-width="1.2"/>
<path transform="translate(185.9 497.65)" d="M0,5.2 C1,6.2 1.8,8 2.3,10 C2.6,11.5 2.9,12.8 3.6,14 C4.6,15.3 5.2,17.5 5.5,20 C5.8,23 5.95,26.5 5.85,29.5 C5.7,31.4 4.9,32.6 3.5,33 L-3.5,33 C-4.9,32.6 -5.7,31.4 -5.85,29.5 C-5.95,26.5 -5.8,23 -5.5,20 C-5.2,17.5 -4.6,15.3 -3.6,14 C-2.9,12.8 -2.6,11.5 -2.3,10 C-1.8,8 -1,6.2 0,5.2 Z" fill="url(#mdk)"/>
<line x1="198" y1="528.65" x2="198" y2="536.45" stroke="#a0a0a0" stroke-width="1.2"/>
<path transform="translate(198 497.65)" d="M0,5.2 C1,6.2 1.8,8 2.3,10 C2.6,11.5 2.9,12.8 3.6,14 C4.6,15.3 5.2,17.5 5.5,20 C5.8,23 5.95,26.5 5.85,29.5 C5.7,31.4 4.9,32.6 3.5,33 L-3.5,33 C-4.9,32.6 -5.7,31.4 -5.85,29.5 C-5.95,26.5 -5.8,23 -5.5,20 C-5.2,17.5 -4.6,15.3 -3.6,14 C-2.9,12.8 -2.6,11.5 -2.3,10 C-1.8,8 -1,6.2 0,5.2 Z" fill="url(#mdk)"/>
<line x1="210.1" y1="528.65" x2="210.1" y2="536.45" stroke="#a0a0a0" stroke-width="1.2"/>
<path transform="translate(210.1 497.65)" d="M0,5.2 C1,6.2 1.8,8 2.3,10 C2.6,11.5 2.9,12.8 3.6,14 C4.6,15.3 5.2,17.5 5.5,20 C5.8,23 5.95,26.5 5.85,29.5 C5.7,31.4 4.9,32.6 3.5,33 L-3.5,33 C-4.9,32.6 -5.7,31.4 -5.85,29.5 C-5.95,26.5 -5.8,23 -5.5,20 C-5.2,17.5 -4.6,15.3 -3.6,14 C-2.9,12.8 -2.6,11.5 -2.3,10 C-1.8,8 -1,6.2 0,5.2 Z" fill="url(#mdk)"/>
<line x1="221.9" y1="528.65" x2="221.9" y2="536.45" stroke="#a0a0a0" stroke-width="1.2"/>
<path transform="translate(221.9 497.65)" d="M0,5.2 C1,6.2 1.8,8 2.3,10 C2.6,11.5 2.9,12.8 3.6,14 C4.6,15.3 5.2,17.5 5.5,20 C5.8,23 5.95,26.5 5.85,29.5 C5.7,31.4 4.9,32.6 3.5,33 L-3.5,33 C-4.9,32.6 -5.7,31.4 -5.85,29.5 C-5.95,26.5 -5.8,23 -5.5,20 C-5.2,17.5 -4.6,15.3 -3.6,14 C-2.9,12.8 -2.6,11.5 -2.3,10 C-1.8,8 -1,6.2 0,5.2 Z" fill="url(#mdk)"/>
<ellipse cx="187.1" cy="512.2" rx="5.4" ry="7.8" fill="url(#gP)"/>
<ellipse cx="197.9" cy="512.2" rx="5.4" ry="7.8" fill="url(#gP)"/>
<ellipse cx="209.8" cy="512.2" rx="5.4" ry="7.8" fill="url(#gP)"/>
<ellipse cx="221" cy="512.2" rx="5.4" ry="7.8" fill="url(#gP)"/>
<ellipse cx="187.1" cy="512.5" rx="3.6" ry="4.6" fill="url(#gPb)"/>
<ellipse cx="197.9" cy="512.5" rx="3.6" ry="4.6" fill="url(#gPb)"/>
<ellipse cx="209.8" cy="512.5" rx="3.6" ry="4.6" fill="url(#gPb)"/>
<ellipse cx="221" cy="512.5" rx="3.6" ry="4.6" fill="url(#gPb)"/>
<ellipse cx="188.5" cy="519.2" rx="3.4" ry="1.3" fill="url(#gW)"/>
<ellipse cx="219.5" cy="518.4" rx="2.6" ry="1.2" fill="url(#gW)"/>
<ellipse cx="182.3" cy="524.6" rx="4.4" ry="4.4" fill="url(#hR)"/>
<ellipse cx="193.6" cy="524.6" rx="4.6" ry="4.6" fill="url(#hY)"/>
<ellipse cx="204.4" cy="524.6" rx="4.6" ry="4.6" fill="url(#hY)"/>
<ellipse cx="214.6" cy="524.6" rx="4.4" ry="4.4" fill="url(#hR)"/>
<ellipse cx="225.4" cy="524.6" rx="3.8" ry="3.8" fill="url(#hG)"/>
<rect x="238.8" y="497.65" width="57.8" height="38.8" fill="#121212" />
<rect x="239.6" y="498.45" width="56.2" height="37.2" fill="#242424" />
<rect x="266.4" y="499.65" width="8" height="35.8" fill="#222" />
<line x1="245.8" y1="528.65" x2="245.8" y2="536.45" stroke="#a0a0a0" stroke-width="1.2"/>
<path transform="translate(245.8 497.65)" d="M0,5.2 C1,6.2 1.8,8 2.3,10 C2.6,11.5 2.9,12.8 3.6,14 C4.6,15.3 5.2,17.5 5.5,20 C5.8,23 5.95,26.5 5.85,29.5 C5.7,31.4 4.9,32.6 3.5,33 L-3.5,33 C-4.9,32.6 -5.7,31.4 -5.85,29.5 C-5.95,26.5 -5.8,23 -5.5,20 C-5.2,17.5 -4.6,15.3 -3.6,14 C-2.9,12.8 -2.6,11.5 -2.3,10 C-1.8,8 -1,6.2 0,5.2 Z" fill="url(#mdk)"/>
<line x1="258.1" y1="528.65" x2="258.1" y2="536.45" stroke="#a0a0a0" stroke-width="1.2"/>
<path transform="translate(258.1 497.65)" d="M0,5.2 C1,6.2 1.8,8 2.3,10 C2.6,11.5 2.9,12.8 3.6,14 C4.6,15.3 5.2,17.5 5.5,20 C5.8,23 5.95,26.5 5.85,29.5 C5.7,31.4 4.9,32.6 3.5,33 L-3.5,33 C-4.9,32.6 -5.7,31.4 -5.85,29.5 C-5.95,26.5 -5.8,23 -5.5,20 C-5.2,17.5 -4.6,15.3 -3.6,14 C-2.9,12.8 -2.6,11.5 -2.3,10 C-1.8,8 -1,6.2 0,5.2 Z" fill="url(#mdk)"/>
<line x1="282.6" y1="528.65" x2="282.6" y2="536.45" stroke="#a0a0a0" stroke-width="1.2"/>
<path transform="translate(282.6 497.65)" d="M0,5.2 C1,6.2 1.8,8 2.3,10 C2.6,11.5 2.9,12.8 3.6,14 C4.6,15.3 5.2,17.5 5.5,20 C5.8,23 5.95,26.5 5.85,29.5 C5.7,31.4 4.9,32.6 3.5,33 L-3.5,33 C-4.9,32.6 -5.7,31.4 -5.85,29.5 C-5.95,26.5 -5.8,23 -5.5,20 C-5.2,17.5 -4.6,15.3 -3.6,14 C-2.9,12.8 -2.6,11.5 -2.3,10 C-1.8,8 -1,6.2 0,5.2 Z" fill="url(#mdk)"/>
<ellipse cx="247.8" cy="512.3" rx="5" ry="7" fill="url(#gP)"/>
<ellipse cx="260.5" cy="512.3" rx="5" ry="7" fill="url(#gP)"/>
<ellipse cx="283.6" cy="512.3" rx="5" ry="7" fill="url(#gP)"/>
<ellipse cx="251.3" cy="512.5" rx="2.6" ry="2.6" fill="url(#hG)"/>
<ellipse cx="261" cy="519.5" rx="1.8" ry="1.3" fill="url(#gW)"/>
<ellipse cx="284.5" cy="520.5" rx="2.6" ry="1.3" fill="url(#gW)"/>
<ellipse cx="251" cy="525" rx="9" ry="5" fill="url(#gD)"/>
<ellipse cx="283" cy="525.5" rx="7" ry="5" fill="url(#gD)"/>
<ellipse cx="242" cy="525" rx="3.5" ry="3.5" fill="url(#hR)"/>
<ellipse cx="251.3" cy="525" rx="3.5" ry="3.5" fill="url(#hR)"/>
<ellipse cx="256.5" cy="524.5" rx="3.5" ry="3.5" fill="url(#hR)"/>
<ellipse cx="265.1" cy="525" rx="3.5" ry="3.5" fill="url(#hR)"/>
<ellipse cx="279" cy="525.5" rx="3.5" ry="3.5" fill="url(#hR)"/>
<ellipse cx="287" cy="525.5" rx="3.5" ry="3.5" fill="url(#hR)"/>
<text x="17.4" y="573" font-size="8.4" textLength="26" lengthAdjust="spacingAndGlyphs" transform="rotate(-90 17.4 573)" style="stroke-width:0.1px">Week 4</text>
<rect x="21.8" y="540.6" width="54.8" height="38.8" fill="#121212" />
<rect x="22.6" y="541.4" width="53.2" height="37.2" fill="#2b2b2b" />
<rect x="50.1" y="542.6" width="8" height="35.8" fill="#323232" />
<line x1="30.4" y1="571.6" x2="30.4" y2="579.4" stroke="#a0a0a0" stroke-width="1.2"/>
<path transform="translate(30.4 540.6)" d="M0,5.2 C1,6.2 1.8,8 2.3,10 C2.6,11.5 2.9,12.8 3.6,14 C4.6,15.3 5.2,17.5 5.5,20 C5.8,23 5.95,26.5 5.85,29.5 C5.7,31.4 4.9,32.6 3.5,33 L-3.5,33 C-4.9,32.6 -5.7,31.4 -5.85,29.5 C-5.95,26.5 -5.8,23 -5.5,20 C-5.2,17.5 -4.6,15.3 -3.6,14 C-2.9,12.8 -2.6,11.5 -2.3,10 C-1.8,8 -1,6.2 0,5.2 Z" fill="url(#mw)"/>
<ellipse cx="28.2" cy="555.6" rx="1.3" ry="1.7" fill="#9a9a9a" opacity="0.3"/><ellipse cx="32.6" cy="555.6" rx="1.3" ry="1.7" fill="#9a9a9a" opacity="0.3"/>
<ellipse cx="25.2" cy="574.2" rx="1.8" ry="1" fill="#d8d8d8"/><ellipse cx="35.6" cy="574.2" rx="1.8" ry="1" fill="#d8d8d8"/>
<line x1="42.2" y1="571.6" x2="42.2" y2="579.4" stroke="#a0a0a0" stroke-width="1.2"/>
<path transform="translate(42.2 540.6)" d="M0,5.2 C1,6.2 1.8,8 2.3,10 C2.6,11.5 2.9,12.8 3.6,14 C4.6,15.3 5.2,17.5 5.5,20 C5.8,23 5.95,26.5 5.85,29.5 C5.7,31.4 4.9,32.6 3.5,33 L-3.5,33 C-4.9,32.6 -5.7,31.4 -5.85,29.5 C-5.95,26.5 -5.8,23 -5.5,20 C-5.2,17.5 -4.6,15.3 -3.6,14 C-2.9,12.8 -2.6,11.5 -2.3,10 C-1.8,8 -1,6.2 0,5.2 Z" fill="url(#mw)"/>
<ellipse cx="40" cy="555.6" rx="1.3" ry="1.7" fill="#9a9a9a" opacity="0.3"/><ellipse cx="44.4" cy="555.6" rx="1.3" ry="1.7" fill="#9a9a9a" opacity="0.3"/>
<ellipse cx="37" cy="574.2" rx="1.8" ry="1" fill="#d8d8d8"/><ellipse cx="47.4" cy="574.2" rx="1.8" ry="1" fill="#d8d8d8"/>
<line x1="66.2" y1="571.6" x2="66.2" y2="579.4" stroke="#a0a0a0" stroke-width="1.2"/>
<path transform="translate(66.2 540.6)" d="M0,5.2 C1,6.2 1.8,8 2.3,10 C2.6,11.5 2.9,12.8 3.6,14 C4.6,15.3 5.2,17.5 5.5,20 C5.8,23 5.95,26.5 5.85,29.5 C5.7,31.4 4.9,32.6 3.5,33 L-3.5,33 C-4.9,32.6 -5.7,31.4 -5.85,29.5 C-5.95,26.5 -5.8,23 -5.5,20 C-5.2,17.5 -4.6,15.3 -3.6,14 C-2.9,12.8 -2.6,11.5 -2.3,10 C-1.8,8 -1,6.2 0,5.2 Z" fill="url(#mw)"/>
<ellipse cx="64" cy="555.6" rx="1.3" ry="1.7" fill="#9a9a9a" opacity="0.3"/><ellipse cx="68.4" cy="555.6" rx="1.3" ry="1.7" fill="#9a9a9a" opacity="0.3"/>
<ellipse cx="61" cy="574.2" rx="1.8" ry="1" fill="#d8d8d8"/><ellipse cx="71.4" cy="574.2" rx="1.8" ry="1" fill="#d8d8d8"/>
<ellipse cx="28.4" cy="555.3" rx="2.75" ry="2.75" fill="url(#gK)"/>
<ellipse cx="34.5" cy="555.5" rx="1.88" ry="1.88" fill="url(#gK)"/>
<ellipse cx="42.9" cy="555" rx="5.75" ry="2.38" fill="url(#gK)"/>
<ellipse cx="47" cy="559" rx="2.12" ry="2.12" fill="url(#gK)"/>
<ellipse cx="37.5" cy="569" rx="3.25" ry="2.5" fill="url(#gK)"/>
<ellipse cx="46.2" cy="569.8" rx="5" ry="5" fill="url(#gD)"/>
<ellipse cx="46.2" cy="569.8" rx="3.6" ry="3.6" fill="url(#gPk)"/>
<ellipse cx="61.8" cy="555.5" rx="2.5" ry="2.5" fill="url(#gK)"/>
<ellipse cx="67.4" cy="555.5" rx="2.5" ry="2.5" fill="url(#gK)"/>
<ellipse cx="61.5" cy="570" rx="3.25" ry="2.5" fill="url(#gK)"/>
<ellipse cx="69.6" cy="570.3" rx="5" ry="5" fill="url(#gD)"/>
<ellipse cx="69.6" cy="570.3" rx="3.8" ry="3.8" fill="url(#gP)"/>
<rect x="80.5" y="540.6" width="56.1" height="38.8" fill="#121212" />
<rect x="81.3" y="541.4" width="54.5" height="37.2" fill="#2b2b2b" />
<line x1="88.8" y1="571.6" x2="88.8" y2="579.4" stroke="#a0a0a0" stroke-width="1.2"/>
<path transform="translate(88.8 540.6)" d="M0,5.2 C1,6.2 1.8,8 2.3,10 C2.6,11.5 2.9,12.8 3.6,14 C4.6,15.3 5.2,17.5 5.5,20 C5.8,23 5.95,26.5 5.85,29.5 C5.7,31.4 4.9,32.6 3.5,33 L-3.5,33 C-4.9,32.6 -5.7,31.4 -5.85,29.5 C-5.95,26.5 -5.8,23 -5.5,20 C-5.2,17.5 -4.6,15.3 -3.6,14 C-2.9,12.8 -2.6,11.5 -2.3,10 C-1.8,8 -1,6.2 0,5.2 Z" fill="url(#mw)"/>
<ellipse cx="86.6" cy="555.6" rx="1.3" ry="1.7" fill="#9a9a9a" opacity="0.3"/><ellipse cx="91" cy="555.6" rx="1.3" ry="1.7" fill="#9a9a9a" opacity="0.3"/>
<ellipse cx="83.6" cy="574.2" rx="1.8" ry="1" fill="#d8d8d8"/><ellipse cx="94" cy="574.2" rx="1.8" ry="1" fill="#d8d8d8"/>
<line x1="100.9" y1="571.6" x2="100.9" y2="579.4" stroke="#a0a0a0" stroke-width="1.2"/>
<path transform="translate(100.9 540.6)" d="M0,5.2 C1,6.2 1.8,8 2.3,10 C2.6,11.5 2.9,12.8 3.6,14 C4.6,15.3 5.2,17.5 5.5,20 C5.8,23 5.95,26.5 5.85,29.5 C5.7,31.4 4.9,32.6 3.5,33 L-3.5,33 C-4.9,32.6 -5.7,31.4 -5.85,29.5 C-5.95,26.5 -5.8,23 -5.5,20 C-5.2,17.5 -4.6,15.3 -3.6,14 C-2.9,12.8 -2.6,11.5 -2.3,10 C-1.8,8 -1,6.2 0,5.2 Z" fill="url(#mw)"/>
<ellipse cx="98.7" cy="555.6" rx="1.3" ry="1.7" fill="#9a9a9a" opacity="0.3"/><ellipse cx="103.1" cy="555.6" rx="1.3" ry="1.7" fill="#9a9a9a" opacity="0.3"/>
<ellipse cx="95.7" cy="574.2" rx="1.8" ry="1" fill="#d8d8d8"/><ellipse cx="106.1" cy="574.2" rx="1.8" ry="1" fill="#d8d8d8"/>
<line x1="113.2" y1="571.6" x2="113.2" y2="579.4" stroke="#a0a0a0" stroke-width="1.2"/>
<path transform="translate(113.2 540.6)" d="M0,5.2 C1,6.2 1.8,8 2.3,10 C2.6,11.5 2.9,12.8 3.6,14 C4.6,15.3 5.2,17.5 5.5,20 C5.8,23 5.95,26.5 5.85,29.5 C5.7,31.4 4.9,32.6 3.5,33 L-3.5,33 C-4.9,32.6 -5.7,31.4 -5.85,29.5 C-5.95,26.5 -5.8,23 -5.5,20 C-5.2,17.5 -4.6,15.3 -3.6,14 C-2.9,12.8 -2.6,11.5 -2.3,10 C-1.8,8 -1,6.2 0,5.2 Z" fill="url(#mw)"/>
<ellipse cx="111" cy="555.6" rx="1.3" ry="1.7" fill="#9a9a9a" opacity="0.3"/><ellipse cx="115.4" cy="555.6" rx="1.3" ry="1.7" fill="#9a9a9a" opacity="0.3"/>
<ellipse cx="108" cy="574.2" rx="1.8" ry="1" fill="#d8d8d8"/><ellipse cx="118.4" cy="574.2" rx="1.8" ry="1" fill="#d8d8d8"/>
<line x1="125.2" y1="571.6" x2="125.2" y2="579.4" stroke="#a0a0a0" stroke-width="1.2"/>
<path transform="translate(125.2 540.6)" d="M0,5.2 C1,6.2 1.8,8 2.3,10 C2.6,11.5 2.9,12.8 3.6,14 C4.6,15.3 5.2,17.5 5.5,20 C5.8,23 5.95,26.5 5.85,29.5 C5.7,31.4 4.9,32.6 3.5,33 L-3.5,33 C-4.9,32.6 -5.7,31.4 -5.85,29.5 C-5.95,26.5 -5.8,23 -5.5,20 C-5.2,17.5 -4.6,15.3 -3.6,14 C-2.9,12.8 -2.6,11.5 -2.3,10 C-1.8,8 -1,6.2 0,5.2 Z" fill="url(#mw)"/>
<ellipse cx="123" cy="555.6" rx="1.3" ry="1.7" fill="#9a9a9a" opacity="0.3"/><ellipse cx="127.4" cy="555.6" rx="1.3" ry="1.7" fill="#9a9a9a" opacity="0.3"/>
<ellipse cx="120" cy="574.2" rx="1.8" ry="1" fill="#d8d8d8"/><ellipse cx="130.4" cy="574.2" rx="1.8" ry="1" fill="#d8d8d8"/>
<ellipse cx="90.7" cy="555.3" rx="6" ry="6.5" fill="url(#gP)"/>
<ellipse cx="88.5" cy="569" rx="7.5" ry="6" fill="url(#gD)"/>
<ellipse cx="84" cy="569.1" rx="4" ry="4" fill="url(#gPk)"/>
<ellipse cx="93.8" cy="569" rx="5" ry="5" fill="url(#gP)"/>
<ellipse cx="101" cy="553" rx="6.25" ry="2.5" fill="url(#gK)"/>
<ellipse cx="96" cy="555" rx="2.25" ry="2.25" fill="url(#gK)"/>
<ellipse cx="114.9" cy="553.6" rx="5.5" ry="6.5" fill="url(#gP)"/>
<ellipse cx="112.5" cy="568.5" rx="7.5" ry="6" fill="url(#gD)"/>
<ellipse cx="108.6" cy="568" rx="4.5" ry="4.5" fill="url(#gP)"/>
<ellipse cx="116.5" cy="569.5" rx="5" ry="5" fill="url(#gP)"/>
<ellipse cx="126" cy="554" rx="3" ry="3" fill="url(#gK)"/>
<ellipse cx="124" cy="569.5" rx="6.5" ry="5.5" fill="url(#gD)"/>
<ellipse cx="120.5" cy="569" rx="3.2" ry="3.2" fill="url(#gL)"/>
<ellipse cx="128" cy="570" rx="3.5" ry="3.5" fill="url(#gK)"/>
<rect x="142.5" y="540.6" width="32.3" height="38.8" fill="#121212" />
<rect x="143.3" y="541.4" width="30.7" height="37.2" fill="#1a1a1a" />
<path transform="translate(150.4 540.6) scale(1.12 1.02)" d="M0,5.2 C1,6.2 1.8,8 2.3,10 C2.6,11.5 2.9,12.8 3.6,14 C4.6,15.3 5.2,17.5 5.5,20 C5.8,23 5.95,26.5 5.85,29.5 C5.7,31.4 4.9,32.6 3.5,33 L-3.5,33 C-4.9,32.6 -5.7,31.4 -5.85,29.5 C-5.95,26.5 -5.8,23 -5.5,20 C-5.2,17.5 -4.6,15.3 -3.6,14 C-2.9,12.8 -2.6,11.5 -2.3,10 C-1.8,8 -1,6.2 0,5.2 Z" fill="url(#mb4)"/>
<path transform="translate(162.6 540.6) scale(1.12 1.02)" d="M0,5.2 C1,6.2 1.8,8 2.3,10 C2.6,11.5 2.9,12.8 3.6,14 C4.6,15.3 5.2,17.5 5.5,20 C5.8,23 5.95,26.5 5.85,29.5 C5.7,31.4 4.9,32.6 3.5,33 L-3.5,33 C-4.9,32.6 -5.7,31.4 -5.85,29.5 C-5.95,26.5 -5.8,23 -5.5,20 C-5.2,17.5 -4.6,15.3 -3.6,14 C-2.9,12.8 -2.6,11.5 -2.3,10 C-1.8,8 -1,6.2 0,5.2 Z" fill="url(#mb4)"/>
<ellipse cx="151.5" cy="549" rx="4" ry="3.5" fill="url(#gP)"/>
<ellipse cx="163.5" cy="549" rx="4" ry="3.5" fill="url(#gP)"/>
<ellipse cx="151.5" cy="557" rx="5.4" ry="5.8" fill="url(#hG)"/>
<ellipse cx="163.8" cy="556" rx="5.6" ry="6.2" fill="url(#hY)"/>
<ellipse cx="146.2" cy="568.7" rx="4.8" ry="4.6" fill="url(#hR)"/>
<ellipse cx="155.3" cy="568.5" rx="4.6" ry="4.6" fill="url(#hR)"/>
<ellipse cx="160.2" cy="568.7" rx="4.6" ry="4.6" fill="url(#hR)"/>
<ellipse cx="167.5" cy="568.7" rx="4.2" ry="5.2" fill="url(#hR)"/>
<rect x="178.8" y="540.6" width="53.6" height="38.8" fill="#121212" />
<rect x="179.6" y="541.4" width="52" height="37.2" fill="#1a1a1a" />
<path transform="translate(185.9 540.6) scale(1.12 1.02)" d="M0,5.2 C1,6.2 1.8,8 2.3,10 C2.6,11.5 2.9,12.8 3.6,14 C4.6,15.3 5.2,17.5 5.5,20 C5.8,23 5.95,26.5 5.85,29.5 C5.7,31.4 4.9,32.6 3.5,33 L-3.5,33 C-4.9,32.6 -5.7,31.4 -5.85,29.5 C-5.95,26.5 -5.8,23 -5.5,20 C-5.2,17.5 -4.6,15.3 -3.6,14 C-2.9,12.8 -2.6,11.5 -2.3,10 C-1.8,8 -1,6.2 0,5.2 Z" fill="url(#mb4)"/>
<path transform="translate(198 540.6) scale(1.12 1.02)" d="M0,5.2 C1,6.2 1.8,8 2.3,10 C2.6,11.5 2.9,12.8 3.6,14 C4.6,15.3 5.2,17.5 5.5,20 C5.8,23 5.95,26.5 5.85,29.5 C5.7,31.4 4.9,32.6 3.5,33 L-3.5,33 C-4.9,32.6 -5.7,31.4 -5.85,29.5 C-5.95,26.5 -5.8,23 -5.5,20 C-5.2,17.5 -4.6,15.3 -3.6,14 C-2.9,12.8 -2.6,11.5 -2.3,10 C-1.8,8 -1,6.2 0,5.2 Z" fill="url(#mb4)"/>
<path transform="translate(210.1 540.6) scale(1.12 1.02)" d="M0,5.2 C1,6.2 1.8,8 2.3,10 C2.6,11.5 2.9,12.8 3.6,14 C4.6,15.3 5.2,17.5 5.5,20 C5.8,23 5.95,26.5 5.85,29.5 C5.7,31.4 4.9,32.6 3.5,33 L-3.5,33 C-4.9,32.6 -5.7,31.4 -5.85,29.5 C-5.95,26.5 -5.8,23 -5.5,20 C-5.2,17.5 -4.6,15.3 -3.6,14 C-2.9,12.8 -2.6,11.5 -2.3,10 C-1.8,8 -1,6.2 0,5.2 Z" fill="url(#mb4)"/>
<path transform="translate(221.9 540.6) scale(1.12 1.02)" d="M0,5.2 C1,6.2 1.8,8 2.3,10 C2.6,11.5 2.9,12.8 3.6,14 C4.6,15.3 5.2,17.5 5.5,20 C5.8,23 5.95,26.5 5.85,29.5 C5.7,31.4 4.9,32.6 3.5,33 L-3.5,33 C-4.9,32.6 -5.7,31.4 -5.85,29.5 C-5.95,26.5 -5.8,23 -5.5,20 C-5.2,17.5 -4.6,15.3 -3.6,14 C-2.9,12.8 -2.6,11.5 -2.3,10 C-1.8,8 -1,6.2 0,5.2 Z" fill="url(#mb4)"/>
<ellipse cx="186" cy="548" rx="3.5" ry="3.5" fill="url(#gP)"/>
<ellipse cx="198.5" cy="548" rx="3.5" ry="3.5" fill="url(#gP)"/>
<ellipse cx="209.8" cy="548" rx="3.5" ry="3.5" fill="url(#gP)"/>
<ellipse cx="221.6" cy="548" rx="3.5" ry="3.5" fill="url(#gP)"/>
<ellipse cx="186" cy="555.8" rx="4.8" ry="5.6" fill="url(#hR)"/>
<ellipse cx="198.5" cy="555.8" rx="4.8" ry="5.6" fill="url(#hR)"/>
<ellipse cx="209.8" cy="555.8" rx="4.8" ry="5.6" fill="url(#hR)"/>
<ellipse cx="221.6" cy="556" rx="5" ry="5" fill="url(#hG)"/>
<ellipse cx="181" cy="568" rx="4.8" ry="4.8" fill="url(#hR)"/>
<ellipse cx="187" cy="568.5" rx="4.8" ry="4.8" fill="url(#hR)"/>
<ellipse cx="193.5" cy="568" rx="4.8" ry="4.8" fill="url(#hR)"/>
<ellipse cx="199" cy="568.5" rx="4.8" ry="4.8" fill="url(#hR)"/>
<ellipse cx="205.5" cy="568" rx="4.8" ry="4.8" fill="url(#hR)"/>
<ellipse cx="213" cy="568.5" rx="4.8" ry="4.8" fill="url(#hR)"/>
<ellipse cx="218" cy="568" rx="4.8" ry="4.8" fill="url(#hR)"/>
<ellipse cx="225.4" cy="568.5" rx="4.8" ry="4.8" fill="url(#hR)"/>
<rect x="238.8" y="540.6" width="57.8" height="38.8" fill="#121212" />
<rect x="239.6" y="541.4" width="56.2" height="37.2" fill="#1a1a1a" />
<rect x="266.4" y="542.6" width="8" height="35.8" fill="#222" />
<path transform="translate(245.8 540.6) scale(1.12 1.02)" d="M0,5.2 C1,6.2 1.8,8 2.3,10 C2.6,11.5 2.9,12.8 3.6,14 C4.6,15.3 5.2,17.5 5.5,20 C5.8,23 5.95,26.5 5.85,29.5 C5.7,31.4 4.9,32.6 3.5,33 L-3.5,33 C-4.9,32.6 -5.7,31.4 -5.85,29.5 C-5.95,26.5 -5.8,23 -5.5,20 C-5.2,17.5 -4.6,15.3 -3.6,14 C-2.9,12.8 -2.6,11.5 -2.3,10 C-1.8,8 -1,6.2 0,5.2 Z" fill="url(#mb4)"/>
<path transform="translate(258.1 540.6) scale(1.12 1.02)" d="M0,5.2 C1,6.2 1.8,8 2.3,10 C2.6,11.5 2.9,12.8 3.6,14 C4.6,15.3 5.2,17.5 5.5,20 C5.8,23 5.95,26.5 5.85,29.5 C5.7,31.4 4.9,32.6 3.5,33 L-3.5,33 C-4.9,32.6 -5.7,31.4 -5.85,29.5 C-5.95,26.5 -5.8,23 -5.5,20 C-5.2,17.5 -4.6,15.3 -3.6,14 C-2.9,12.8 -2.6,11.5 -2.3,10 C-1.8,8 -1,6.2 0,5.2 Z" fill="url(#mb4)"/>
<path transform="translate(282.6 540.6) scale(1.12 1.02)" d="M0,5.2 C1,6.2 1.8,8 2.3,10 C2.6,11.5 2.9,12.8 3.6,14 C4.6,15.3 5.2,17.5 5.5,20 C5.8,23 5.95,26.5 5.85,29.5 C5.7,31.4 4.9,32.6 3.5,33 L-3.5,33 C-4.9,32.6 -5.7,31.4 -5.85,29.5 C-5.95,26.5 -5.8,23 -5.5,20 C-5.2,17.5 -4.6,15.3 -3.6,14 C-2.9,12.8 -2.6,11.5 -2.3,10 C-1.8,8 -1,6.2 0,5.2 Z" fill="url(#mb4)"/>
<ellipse cx="247.8" cy="549" rx="4" ry="3.5" fill="url(#gP)"/>
<ellipse cx="260.5" cy="549" rx="4" ry="3.5" fill="url(#gP)"/>
<ellipse cx="283.6" cy="549" rx="4" ry="3.5" fill="url(#gP)"/>
<ellipse cx="244" cy="555" rx="4" ry="4" fill="url(#hG)"/>
<ellipse cx="250.5" cy="556" rx="4" ry="6.5" fill="url(#hR)"/>
<ellipse cx="257.5" cy="555" rx="4" ry="4" fill="url(#hG)"/>
<ellipse cx="264" cy="553" rx="4" ry="4" fill="url(#hY)"/>
<ellipse cx="280" cy="554" rx="4" ry="4" fill="url(#hG)"/>
<ellipse cx="286" cy="556" rx="4.2" ry="4.2" fill="url(#hY)"/>
<ellipse cx="243.5" cy="568" rx="4.8" ry="5.2" fill="url(#hR)"/>
<ellipse cx="250.5" cy="568" rx="4.8" ry="5.2" fill="url(#hR)"/>
<ellipse cx="256.5" cy="568" rx="4.8" ry="5.2" fill="url(#hR)"/>
<ellipse cx="264" cy="568" rx="4.8" ry="5.2" fill="url(#hR)"/>
<ellipse cx="278.5" cy="568" rx="4.8" ry="5.2" fill="url(#hR)"/>
<ellipse cx="287" cy="568" rx="4.8" ry="5.2" fill="url(#hR)"/>
<text x="17.4" y="615.95" font-size="8.4" textLength="26" lengthAdjust="spacingAndGlyphs" transform="rotate(-90 17.4 615.95)" style="stroke-width:0.1px">Week 5</text>
<rect x="21.8" y="583.55" width="54.8" height="38.8" fill="#121212" />
<rect x="22.6" y="584.35" width="53.2" height="37.2" fill="#2b2b2b" />
<rect x="50.1" y="585.55" width="8" height="35.8" fill="#323232" />
<line x1="30.4" y1="614.55" x2="30.4" y2="622.35" stroke="#a0a0a0" stroke-width="1.2"/>
<path transform="translate(30.4 583.55)" d="M0,5.2 C1,6.2 1.8,8 2.3,10 C2.6,11.5 2.9,12.8 3.6,14 C4.6,15.3 5.2,17.5 5.5,20 C5.8,23 5.95,26.5 5.85,29.5 C5.7,31.4 4.9,32.6 3.5,33 L-3.5,33 C-4.9,32.6 -5.7,31.4 -5.85,29.5 C-5.95,26.5 -5.8,23 -5.5,20 C-5.2,17.5 -4.6,15.3 -3.6,14 C-2.9,12.8 -2.6,11.5 -2.3,10 C-1.8,8 -1,6.2 0,5.2 Z" fill="url(#mw)"/>
<ellipse cx="28.2" cy="598.55" rx="1.3" ry="1.7" fill="#9a9a9a" opacity="0.3"/><ellipse cx="32.6" cy="598.55" rx="1.3" ry="1.7" fill="#9a9a9a" opacity="0.3"/>
<ellipse cx="25.2" cy="617.15" rx="1.8" ry="1" fill="#d8d8d8"/><ellipse cx="35.6" cy="617.15" rx="1.8" ry="1" fill="#d8d8d8"/>
<line x1="42.2" y1="614.55" x2="42.2" y2="622.35" stroke="#a0a0a0" stroke-width="1.2"/>
<path transform="translate(42.2 583.55)" d="M0,5.2 C1,6.2 1.8,8 2.3,10 C2.6,11.5 2.9,12.8 3.6,14 C4.6,15.3 5.2,17.5 5.5,20 C5.8,23 5.95,26.5 5.85,29.5 C5.7,31.4 4.9,32.6 3.5,33 L-3.5,33 C-4.9,32.6 -5.7,31.4 -5.85,29.5 C-5.95,26.5 -5.8,23 -5.5,20 C-5.2,17.5 -4.6,15.3 -3.6,14 C-2.9,12.8 -2.6,11.5 -2.3,10 C-1.8,8 -1,6.2 0,5.2 Z" fill="url(#mw)"/>
<ellipse cx="40" cy="598.55" rx="1.3" ry="1.7" fill="#9a9a9a" opacity="0.3"/><ellipse cx="44.4" cy="598.55" rx="1.3" ry="1.7" fill="#9a9a9a" opacity="0.3"/>
<ellipse cx="37" cy="617.15" rx="1.8" ry="1" fill="#d8d8d8"/><ellipse cx="47.4" cy="617.15" rx="1.8" ry="1" fill="#d8d8d8"/>
<line x1="66.2" y1="614.55" x2="66.2" y2="622.35" stroke="#a0a0a0" stroke-width="1.2"/>
<path transform="translate(66.2 583.55)" d="M0,5.2 C1,6.2 1.8,8 2.3,10 C2.6,11.5 2.9,12.8 3.6,14 C4.6,15.3 5.2,17.5 5.5,20 C5.8,23 5.95,26.5 5.85,29.5 C5.7,31.4 4.9,32.6 3.5,33 L-3.5,33 C-4.9,32.6 -5.7,31.4 -5.85,29.5 C-5.95,26.5 -5.8,23 -5.5,20 C-5.2,17.5 -4.6,15.3 -3.6,14 C-2.9,12.8 -2.6,11.5 -2.3,10 C-1.8,8 -1,6.2 0,5.2 Z" fill="url(#mw)"/>
<ellipse cx="64" cy="598.55" rx="1.3" ry="1.7" fill="#9a9a9a" opacity="0.3"/><ellipse cx="68.4" cy="598.55" rx="1.3" ry="1.7" fill="#9a9a9a" opacity="0.3"/>
<ellipse cx="61" cy="617.15" rx="1.8" ry="1" fill="#d8d8d8"/><ellipse cx="71.4" cy="617.15" rx="1.8" ry="1" fill="#d8d8d8"/>
<ellipse cx="29.5" cy="595" rx="7" ry="8" fill="url(#gD)"/>
<ellipse cx="28.4" cy="596.5" rx="5.5" ry="6" fill="url(#gP)"/>
<ellipse cx="28.5" cy="613" rx="7" ry="5.5" fill="url(#gD)"/>
<ellipse cx="27" cy="613" rx="5.62" ry="4.38" fill="url(#gK)"/>
<ellipse cx="42.5" cy="595" rx="7" ry="8" fill="url(#gD)"/>
<ellipse cx="43" cy="596.5" rx="5.5" ry="6" fill="url(#gP)"/>
<ellipse cx="41" cy="612.5" rx="7" ry="6" fill="url(#gD)"/>
<ellipse cx="36.5" cy="612.5" rx="4" ry="4" fill="url(#gP)"/>
<ellipse cx="45.6" cy="611.7" rx="4.4" ry="4.4" fill="url(#gR)"/>
<ellipse cx="65.5" cy="595" rx="7" ry="8" fill="url(#gD)"/>
<ellipse cx="64.5" cy="596.5" rx="5.5" ry="6" fill="url(#gP)"/>
<ellipse cx="66" cy="612.5" rx="7.5" ry="5.5" fill="url(#gD)"/>
<ellipse cx="66" cy="612.5" rx="6" ry="4" fill="url(#gP)"/>
<ellipse cx="60.5" cy="612" rx="2.2" ry="2.2" fill="url(#gL)"/>
<rect x="80.5" y="583.55" width="56.1" height="38.8" fill="#121212" />
<rect x="81.3" y="584.35" width="54.5" height="37.2" fill="#1a1a1a" />
<line x1="88.8" y1="614.55" x2="88.8" y2="622.35" stroke="#a0a0a0" stroke-width="1.2"/>
<path transform="translate(88.8 583.55)" d="M0,5.2 C1,6.2 1.8,8 2.3,10 C2.6,11.5 2.9,12.8 3.6,14 C4.6,15.3 5.2,17.5 5.5,20 C5.8,23 5.95,26.5 5.85,29.5 C5.7,31.4 4.9,32.6 3.5,33 L-3.5,33 C-4.9,32.6 -5.7,31.4 -5.85,29.5 C-5.95,26.5 -5.8,23 -5.5,20 C-5.2,17.5 -4.6,15.3 -3.6,14 C-2.9,12.8 -2.6,11.5 -2.3,10 C-1.8,8 -1,6.2 0,5.2 Z" fill="url(#mdk)"/>
<line x1="100.9" y1="614.55" x2="100.9" y2="622.35" stroke="#a0a0a0" stroke-width="1.2"/>
<path transform="translate(100.9 583.55)" d="M0,5.2 C1,6.2 1.8,8 2.3,10 C2.6,11.5 2.9,12.8 3.6,14 C4.6,15.3 5.2,17.5 5.5,20 C5.8,23 5.95,26.5 5.85,29.5 C5.7,31.4 4.9,32.6 3.5,33 L-3.5,33 C-4.9,32.6 -5.7,31.4 -5.85,29.5 C-5.95,26.5 -5.8,23 -5.5,20 C-5.2,17.5 -4.6,15.3 -3.6,14 C-2.9,12.8 -2.6,11.5 -2.3,10 C-1.8,8 -1,6.2 0,5.2 Z" fill="url(#mdk)"/>
<line x1="113.2" y1="614.55" x2="113.2" y2="622.35" stroke="#a0a0a0" stroke-width="1.2"/>
<path transform="translate(113.2 583.55)" d="M0,5.2 C1,6.2 1.8,8 2.3,10 C2.6,11.5 2.9,12.8 3.6,14 C4.6,15.3 5.2,17.5 5.5,20 C5.8,23 5.95,26.5 5.85,29.5 C5.7,31.4 4.9,32.6 3.5,33 L-3.5,33 C-4.9,32.6 -5.7,31.4 -5.85,29.5 C-5.95,26.5 -5.8,23 -5.5,20 C-5.2,17.5 -4.6,15.3 -3.6,14 C-2.9,12.8 -2.6,11.5 -2.3,10 C-1.8,8 -1,6.2 0,5.2 Z" fill="url(#mdk)"/>
<line x1="125.2" y1="614.55" x2="125.2" y2="622.35" stroke="#a0a0a0" stroke-width="1.2"/>
<path transform="translate(125.2 583.55)" d="M0,5.2 C1,6.2 1.8,8 2.3,10 C2.6,11.5 2.9,12.8 3.6,14 C4.6,15.3 5.2,17.5 5.5,20 C5.8,23 5.95,26.5 5.85,29.5 C5.7,31.4 4.9,32.6 3.5,33 L-3.5,33 C-4.9,32.6 -5.7,31.4 -5.85,29.5 C-5.95,26.5 -5.8,23 -5.5,20 C-5.2,17.5 -4.6,15.3 -3.6,14 C-2.9,12.8 -2.6,11.5 -2.3,10 C-1.8,8 -1,6.2 0,5.2 Z" fill="url(#mdk)"/>
<ellipse cx="87.2" cy="598.3" rx="4.5" ry="4.5" fill="url(#gP)"/>
<ellipse cx="93" cy="598.3" rx="2.8" ry="2.8" fill="url(#gL)"/>
<ellipse cx="97" cy="598.3" rx="4" ry="4" fill="url(#gP)"/>
<ellipse cx="102.8" cy="598.3" rx="4" ry="4" fill="url(#gP)"/>
<ellipse cx="116.6" cy="598" rx="3.3" ry="3.3" fill="url(#gL)"/>
<ellipse cx="122.4" cy="600" rx="2.8" ry="2.8" fill="url(#gL)"/>
<ellipse cx="127.6" cy="598.3" rx="4" ry="4" fill="url(#gP)"/>
<ellipse cx="99.9" cy="604.6" rx="3.2" ry="2.2" fill="url(#gL)"/>
<ellipse cx="83.8" cy="611.6" rx="4.4" ry="4.4" fill="url(#gR)"/>
<ellipse cx="93.6" cy="611.6" rx="3.8" ry="3.8" fill="url(#gR)"/>
<ellipse cx="109.7" cy="611.6" rx="3.8" ry="3.8" fill="url(#gR)"/>
<ellipse cx="117.8" cy="611.6" rx="3.4" ry="4.4" fill="url(#gY)"/>
<ellipse cx="122.4" cy="611.6" rx="4.4" ry="4.4" fill="url(#gR)"/>
<ellipse cx="129.9" cy="608" rx="2.2" ry="2.2" fill="url(#gL)"/>
<ellipse cx="129.9" cy="614" rx="2.2" ry="2.2" fill="url(#gL)"/>
<rect x="142.5" y="583.55" width="32.3" height="38.8" fill="#121212" />
<rect x="143.3" y="584.35" width="30.7" height="37.2" fill="#1a1a1a" />
<path transform="translate(150.4 583.55) scale(1.12 1.02)" d="M0,5.2 C1,6.2 1.8,8 2.3,10 C2.6,11.5 2.9,12.8 3.6,14 C4.6,15.3 5.2,17.5 5.5,20 C5.8,23 5.95,26.5 5.85,29.5 C5.7,31.4 4.9,32.6 3.5,33 L-3.5,33 C-4.9,32.6 -5.7,31.4 -5.85,29.5 C-5.95,26.5 -5.8,23 -5.5,20 C-5.2,17.5 -4.6,15.3 -3.6,14 C-2.9,12.8 -2.6,11.5 -2.3,10 C-1.8,8 -1,6.2 0,5.2 Z" fill="url(#mg5)"/>
<path transform="translate(162.6 583.55) scale(1.12 1.02)" d="M0,5.2 C1,6.2 1.8,8 2.3,10 C2.6,11.5 2.9,12.8 3.6,14 C4.6,15.3 5.2,17.5 5.5,20 C5.8,23 5.95,26.5 5.85,29.5 C5.7,31.4 4.9,32.6 3.5,33 L-3.5,33 C-4.9,32.6 -5.7,31.4 -5.85,29.5 C-5.95,26.5 -5.8,23 -5.5,20 C-5.2,17.5 -4.6,15.3 -3.6,14 C-2.9,12.8 -2.6,11.5 -2.3,10 C-1.8,8 -1,6.2 0,5.2 Z" fill="url(#mg5)"/>
<ellipse cx="151" cy="594" rx="4.2" ry="4.2" fill="url(#hY)"/>
<ellipse cx="163" cy="594" rx="4.2" ry="4.2" fill="url(#hG)"/>
<ellipse cx="151" cy="600.7" rx="6" ry="6.2" fill="url(#hRR)"/>
<ellipse cx="163" cy="600.5" rx="6" ry="6.2" fill="url(#hRR)"/>
<ellipse cx="153" cy="612.5" rx="11" ry="6.8" fill="url(#hRR)"/>
<ellipse cx="167.5" cy="612.5" rx="6" ry="7" fill="url(#hRR)"/>
<rect x="178.8" y="583.55" width="53.6" height="38.8" fill="#121212" />
<rect x="179.6" y="584.35" width="52" height="37.2" fill="#1a1a1a" />
<path transform="translate(185.9 583.55) scale(1.12 1.02)" d="M0,5.2 C1,6.2 1.8,8 2.3,10 C2.6,11.5 2.9,12.8 3.6,14 C4.6,15.3 5.2,17.5 5.5,20 C5.8,23 5.95,26.5 5.85,29.5 C5.7,31.4 4.9,32.6 3.5,33 L-3.5,33 C-4.9,32.6 -5.7,31.4 -5.85,29.5 C-5.95,26.5 -5.8,23 -5.5,20 C-5.2,17.5 -4.6,15.3 -3.6,14 C-2.9,12.8 -2.6,11.5 -2.3,10 C-1.8,8 -1,6.2 0,5.2 Z" fill="url(#mg5)"/>
<path transform="translate(198 583.55) scale(1.12 1.02)" d="M0,5.2 C1,6.2 1.8,8 2.3,10 C2.6,11.5 2.9,12.8 3.6,14 C4.6,15.3 5.2,17.5 5.5,20 C5.8,23 5.95,26.5 5.85,29.5 C5.7,31.4 4.9,32.6 3.5,33 L-3.5,33 C-4.9,32.6 -5.7,31.4 -5.85,29.5 C-5.95,26.5 -5.8,23 -5.5,20 C-5.2,17.5 -4.6,15.3 -3.6,14 C-2.9,12.8 -2.6,11.5 -2.3,10 C-1.8,8 -1,6.2 0,5.2 Z" fill="url(#mg5)"/>
<path transform="translate(210.1 583.55) scale(1.12 1.02)" d="M0,5.2 C1,6.2 1.8,8 2.3,10 C2.6,11.5 2.9,12.8 3.6,14 C4.6,15.3 5.2,17.5 5.5,20 C5.8,23 5.95,26.5 5.85,29.5 C5.7,31.4 4.9,32.6 3.5,33 L-3.5,33 C-4.9,32.6 -5.7,31.4 -5.85,29.5 C-5.95,26.5 -5.8,23 -5.5,20 C-5.2,17.5 -4.6,15.3 -3.6,14 C-2.9,12.8 -2.6,11.5 -2.3,10 C-1.8,8 -1,6.2 0,5.2 Z" fill="url(#mg5)"/>
<path transform="translate(221.9 583.55) scale(1.12 1.02)" d="M0,5.2 C1,6.2 1.8,8 2.3,10 C2.6,11.5 2.9,12.8 3.6,14 C4.6,15.3 5.2,17.5 5.5,20 C5.8,23 5.95,26.5 5.85,29.5 C5.7,31.4 4.9,32.6 3.5,33 L-3.5,33 C-4.9,32.6 -5.7,31.4 -5.85,29.5 C-5.95,26.5 -5.8,23 -5.5,20 C-5.2,17.5 -4.6,15.3 -3.6,14 C-2.9,12.8 -2.6,11.5 -2.3,10 C-1.8,8 -1,6.2 0,5.2 Z" fill="url(#mg5)"/>
<ellipse cx="185.5" cy="599" rx="5.4" ry="7" fill="url(#hRR)"/>
<ellipse cx="197.5" cy="598" rx="5.4" ry="7" fill="url(#hRR)"/>
<ellipse cx="209.5" cy="598.5" rx="5.4" ry="7" fill="url(#hRR)"/>
<ellipse cx="222.5" cy="599.5" rx="5.2" ry="5.2" fill="url(#hRR)"/>
<ellipse cx="182" cy="611" rx="5.2" ry="6.8" fill="url(#hRR)"/>
<ellipse cx="190" cy="611.5" rx="6" ry="6.8" fill="url(#hRR)"/>
<ellipse cx="200" cy="612" rx="6.4" ry="6.8" fill="url(#hRR)"/>
<ellipse cx="209.5" cy="611" rx="7.2" ry="6.8" fill="url(#hRR)"/>
<ellipse cx="219" cy="611" rx="7.2" ry="6.8" fill="url(#hRR)"/>
<ellipse cx="227.5" cy="610.5" rx="4.6" ry="6.8" fill="url(#hRR)"/>
<rect x="238.8" y="583.55" width="57.8" height="38.8" fill="#121212" />
<rect x="239.6" y="584.35" width="56.2" height="37.2" fill="#1a1a1a" />
<rect x="266.4" y="585.55" width="8" height="35.8" fill="#222" />
<path transform="translate(245.8 583.55) scale(1.12 1.02)" d="M0,5.2 C1,6.2 1.8,8 2.3,10 C2.6,11.5 2.9,12.8 3.6,14 C4.6,15.3 5.2,17.5 5.5,20 C5.8,23 5.95,26.5 5.85,29.5 C5.7,31.4 4.9,32.6 3.5,33 L-3.5,33 C-4.9,32.6 -5.7,31.4 -5.85,29.5 C-5.95,26.5 -5.8,23 -5.5,20 C-5.2,17.5 -4.6,15.3 -3.6,14 C-2.9,12.8 -2.6,11.5 -2.3,10 C-1.8,8 -1,6.2 0,5.2 Z" fill="url(#mg5)"/>
<path transform="translate(258.1 583.55) scale(1.12 1.02)" d="M0,5.2 C1,6.2 1.8,8 2.3,10 C2.6,11.5 2.9,12.8 3.6,14 C4.6,15.3 5.2,17.5 5.5,20 C5.8,23 5.95,26.5 5.85,29.5 C5.7,31.4 4.9,32.6 3.5,33 L-3.5,33 C-4.9,32.6 -5.7,31.4 -5.85,29.5 C-5.95,26.5 -5.8,23 -5.5,20 C-5.2,17.5 -4.6,15.3 -3.6,14 C-2.9,12.8 -2.6,11.5 -2.3,10 C-1.8,8 -1,6.2 0,5.2 Z" fill="url(#mg5)"/>
<path transform="translate(282.6 583.55) scale(1.12 1.02)" d="M0,5.2 C1,6.2 1.8,8 2.3,10 C2.6,11.5 2.9,12.8 3.6,14 C4.6,15.3 5.2,17.5 5.5,20 C5.8,23 5.95,26.5 5.85,29.5 C5.7,31.4 4.9,32.6 3.5,33 L-3.5,33 C-4.9,32.6 -5.7,31.4 -5.85,29.5 C-5.95,26.5 -5.8,23 -5.5,20 C-5.2,17.5 -4.6,15.3 -3.6,14 C-2.9,12.8 -2.6,11.5 -2.3,10 C-1.8,8 -1,6.2 0,5.2 Z" fill="url(#mg5)"/>
<ellipse cx="245" cy="598" rx="4.4" ry="4.4" fill="url(#hY)"/>
<ellipse cx="250" cy="595.5" rx="3.6" ry="3.6" fill="url(#hY)"/>
<ellipse cx="252.5" cy="600.5" rx="4.4" ry="6" fill="url(#hRR)"/>
<ellipse cx="258" cy="597" rx="3.6" ry="3.6" fill="url(#hY)"/>
<ellipse cx="263.5" cy="600" rx="5" ry="6.8" fill="url(#hRR)"/>
<ellipse cx="285" cy="599" rx="5.6" ry="7" fill="url(#hRR)"/>
<ellipse cx="281" cy="603" rx="3" ry="3" fill="url(#hG)"/>
<ellipse cx="246" cy="611.5" rx="8" ry="7" fill="url(#hRR)"/>
<ellipse cx="256" cy="612" rx="8" ry="7" fill="url(#hRR)"/>
<ellipse cx="264" cy="611" rx="5" ry="7" fill="url(#hRR)"/>
<ellipse cx="280.5" cy="611" rx="5.8" ry="7" fill="url(#hRR)"/>
<ellipse cx="287.5" cy="612" rx="5.8" ry="7" fill="url(#hRR)"/>
<defs><linearGradient id="cbar" x1="0" x2="1" y1="0" y2="0">
<stop offset="0" stop-color="#101010"/><stop offset="0.1" stop-color="#281040"/><stop offset="0.25" stop-color="#3a1a80"/><stop offset="0.35" stop-color="#3838b8"/>
<stop offset="0.43" stop-color="#3a70d8"/><stop offset="0.49" stop-color="#60c0f0"/><stop offset="0.55" stop-color="#50c8a0"/><stop offset="0.62" stop-color="#48b848"/>
<stop offset="0.72" stop-color="#80c040"/><stop offset="0.8" stop-color="#e8e020"/><stop offset="0.88" stop-color="#f0a020"/><stop offset="0.95" stop-color="#f04020"/><stop offset="1" stop-color="#e82020"/>
</linearGradient></defs>
<rect x="128.9" y="628.6" width="162.5" height="5.9" fill="url(#cbar)" />
<line x1="137.2" y1="634.5" x2="137.2" y2="637.9" stroke="#231f20" stroke-width="1" />
<line x1="145.3" y1="634.5" x2="145.3" y2="637.9" stroke="#231f20" stroke-width="1" />
<line x1="153.4" y1="634.5" x2="153.4" y2="637.9" stroke="#231f20" stroke-width="1" />
<line x1="161.5" y1="634.5" x2="161.5" y2="637.9" stroke="#231f20" stroke-width="1" />
<line x1="169.6" y1="634.5" x2="169.6" y2="639.4" stroke="#231f20" stroke-width="1" />
<line x1="177.7" y1="634.5" x2="177.7" y2="637.9" stroke="#231f20" stroke-width="1" />
<line x1="185.8" y1="634.5" x2="185.8" y2="637.9" stroke="#231f20" stroke-width="1" />
<line x1="193.9" y1="634.5" x2="193.9" y2="637.9" stroke="#231f20" stroke-width="1" />
<line x1="202" y1="634.5" x2="202" y2="637.9" stroke="#231f20" stroke-width="1" />
<line x1="210.1" y1="634.5" x2="210.1" y2="639.4" stroke="#231f20" stroke-width="1" />
<line x1="218.2" y1="634.5" x2="218.2" y2="637.9" stroke="#231f20" stroke-width="1" />
<line x1="226.3" y1="634.5" x2="226.3" y2="637.9" stroke="#231f20" stroke-width="1" />
<line x1="234.4" y1="634.5" x2="234.4" y2="637.9" stroke="#231f20" stroke-width="1" />
<line x1="242.5" y1="634.5" x2="242.5" y2="637.9" stroke="#231f20" stroke-width="1" />
<line x1="250.6" y1="634.5" x2="250.6" y2="639.4" stroke="#231f20" stroke-width="1" />
<line x1="258.7" y1="634.5" x2="258.7" y2="637.9" stroke="#231f20" stroke-width="1" />
<line x1="266.8" y1="634.5" x2="266.8" y2="637.9" stroke="#231f20" stroke-width="1" />
<line x1="274.9" y1="634.5" x2="274.9" y2="637.9" stroke="#231f20" stroke-width="1" />
<line x1="283" y1="634.5" x2="283" y2="637.9" stroke="#231f20" stroke-width="1" />
<line x1="291.1" y1="634.5" x2="291.1" y2="639.4" stroke="#231f20" stroke-width="1" />
<text x="169.6" y="647.1" font-size="8.2" text-anchor="middle" textLength="11.5" lengthAdjust="spacingAndGlyphs">0.5</text>
<text x="210.1" y="647.1" font-size="8.2" text-anchor="middle" textLength="11.5" lengthAdjust="spacingAndGlyphs">1.0</text>
<text x="250.6" y="647.1" font-size="8.2" text-anchor="middle" textLength="11.5" lengthAdjust="spacingAndGlyphs">1.5</text>
<text x="291.1" y="647.1" font-size="8.2" text-anchor="middle" textLength="11.5" lengthAdjust="spacingAndGlyphs">2.0</text>
<text x="174.7" y="660.9" font-size="8.6" textLength="87.3" lengthAdjust="spacingAndGlyphs">Luminescence (×10<tspan dy="-3" font-size="6">6</tspan><tspan dy="3">)</tspan></text>
<text x="30.4" y="633.9" font-size="8" textLength="44.2" lengthAdjust="spacingAndGlyphs">Colour scale</text>
<text x="30.4" y="642.8" font-size="8" textLength="48.1" lengthAdjust="spacingAndGlyphs">Min = 1.00e4</text>
<text x="30.4" y="651.8" font-size="8" textLength="50.4" lengthAdjust="spacingAndGlyphs">Max = 2.00e6</text>
<text x="30.4" y="660.5" font-size="8" textLength="86.5" lengthAdjust="spacingAndGlyphs">Radiance (p/sec/cm<tspan dy="-3" font-size="5.5">2</tspan><tspan dy="3">/sr)</tspan></text>
</svg></body></html>
